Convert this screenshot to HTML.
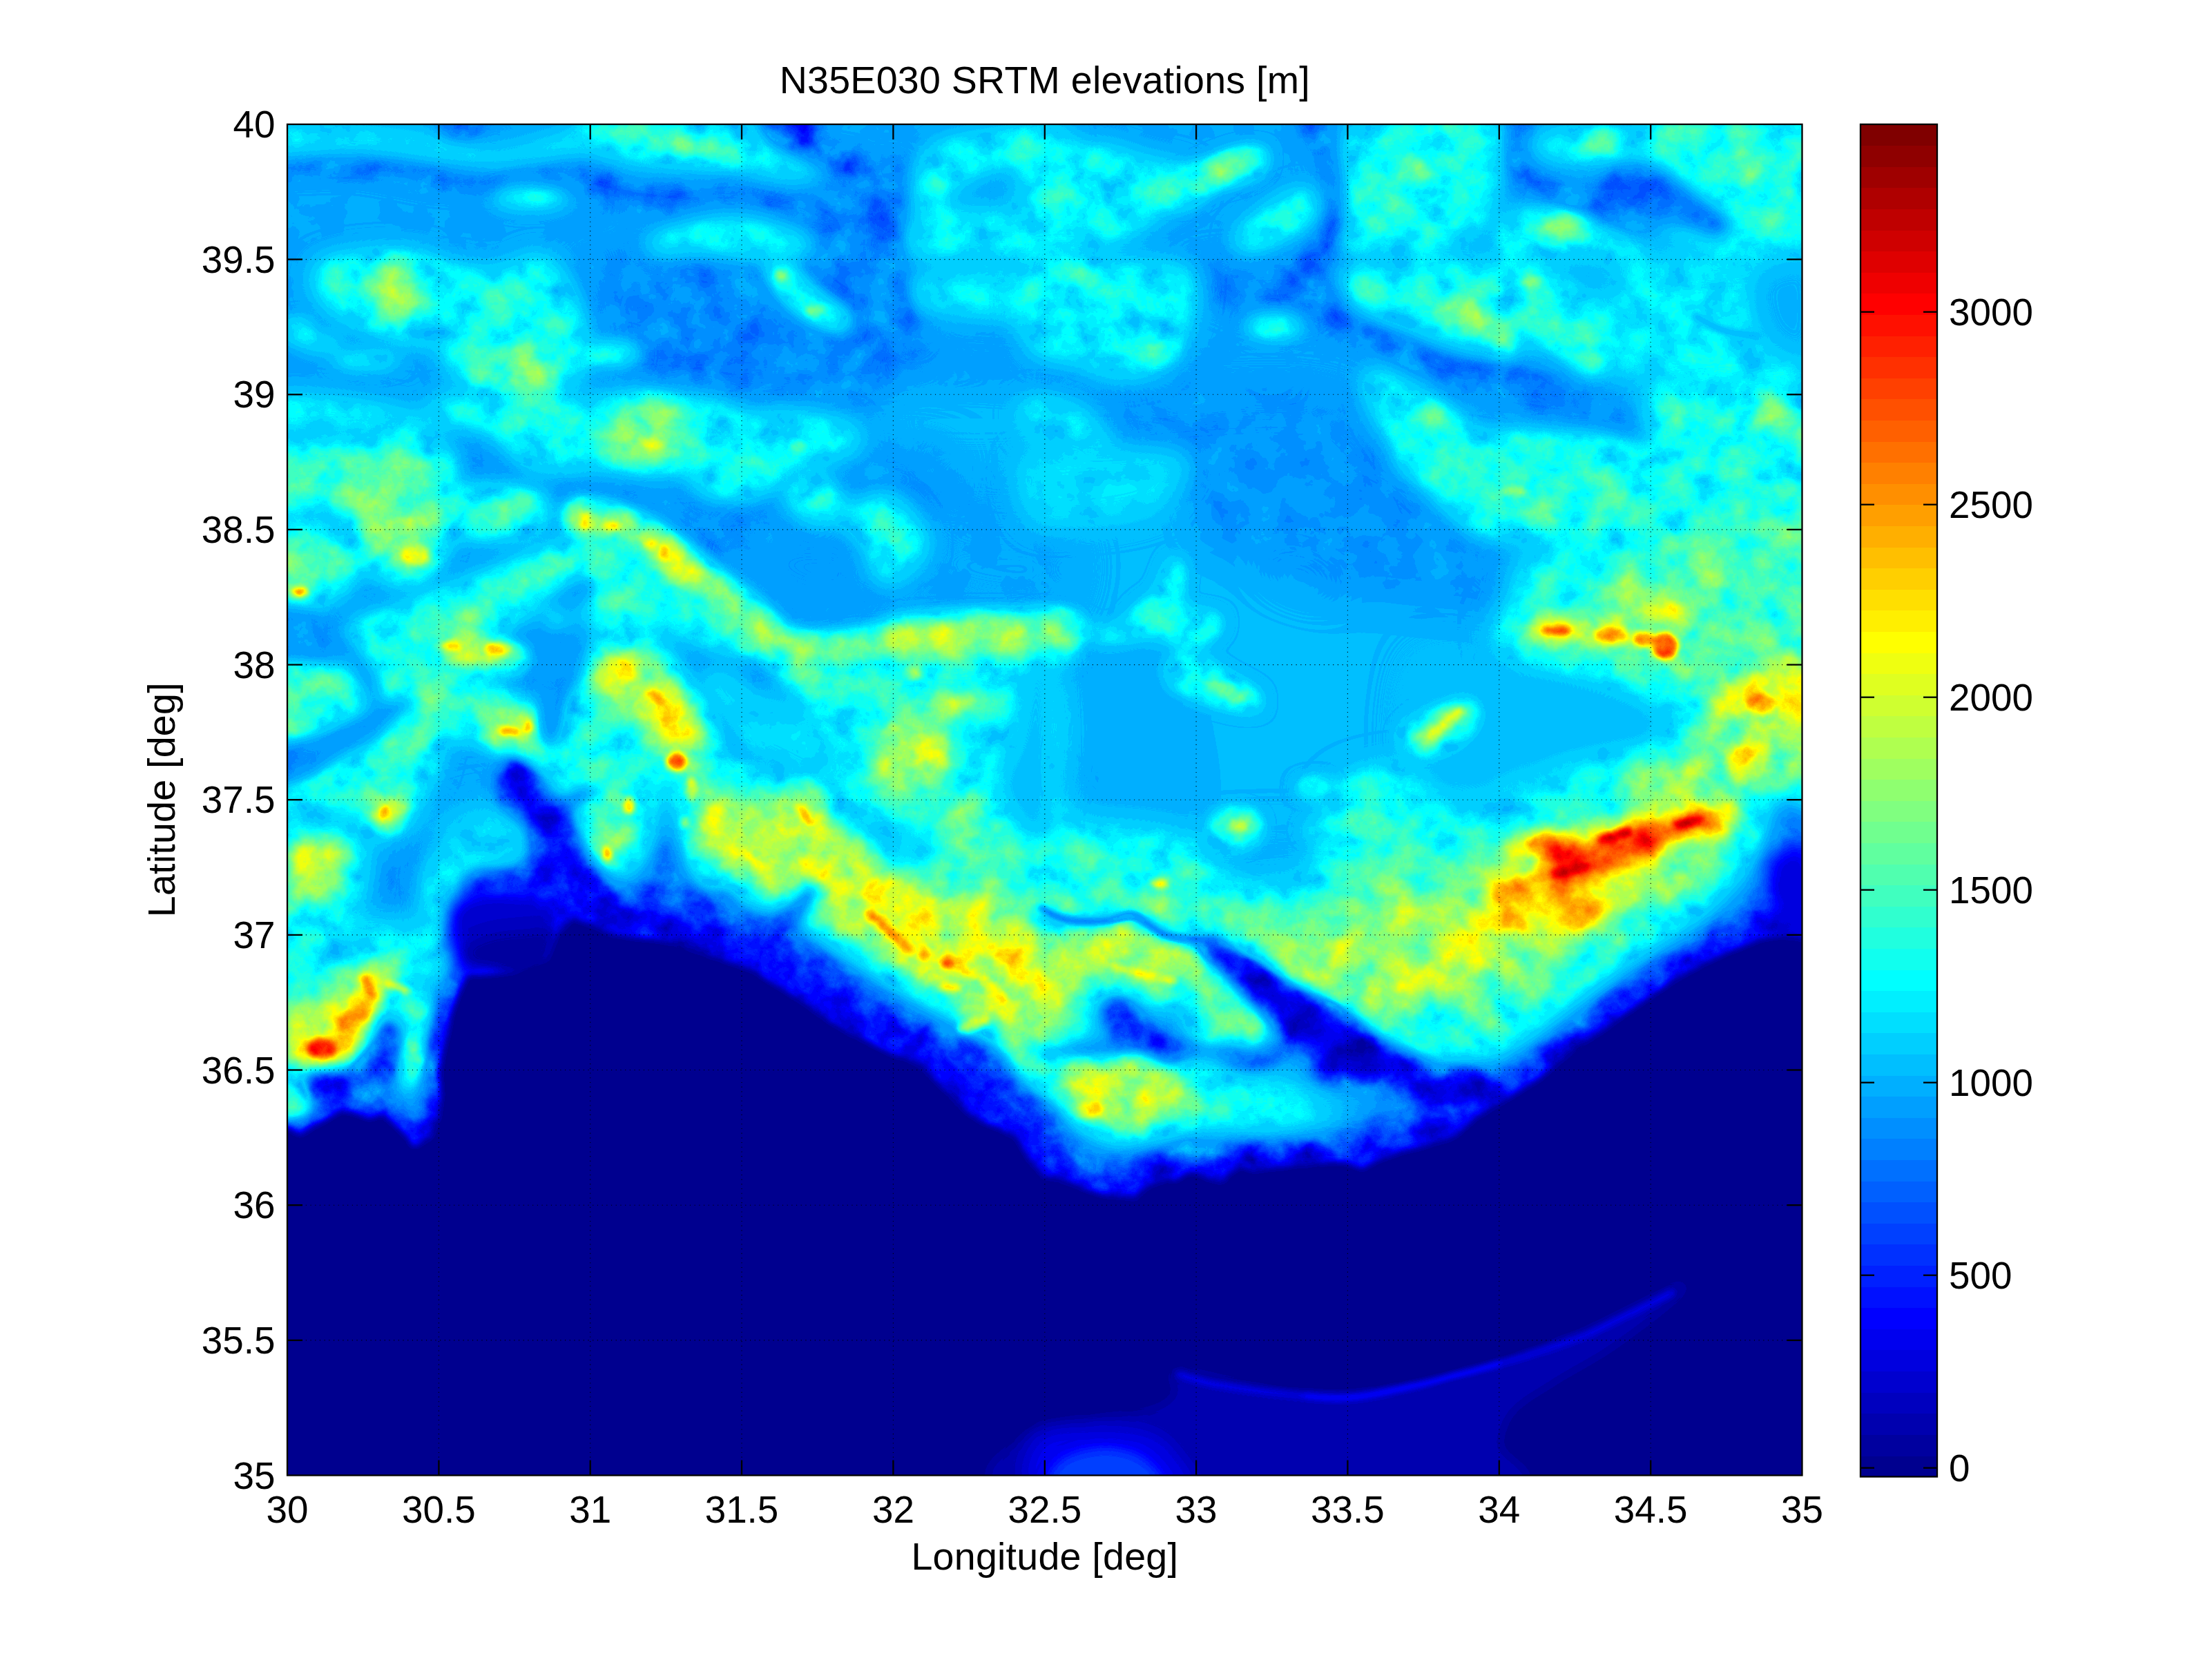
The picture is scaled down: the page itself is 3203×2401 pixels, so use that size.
<!DOCTYPE html>
<html><head><meta charset="utf-8"><title>N35E030 SRTM elevations</title>
<style>html,body{margin:0;padding:0;background:#fff}svg{display:block}text{font-family:"Liberation Sans",sans-serif;fill:#000}</style></head><body>
<svg width="3203" height="2401" viewBox="0 0 3203 2401">
<defs>
<clipPath id="ax"><rect x="416.0" y="180.0" width="2193.5" height="1956.5"/></clipPath>
<filter id="jet" filterUnits="userSpaceOnUse" x="406.0" y="170.0" width="2213.5" height="1976.5" color-interpolation-filters="sRGB">
<feComponentTransfer><feFuncR type="discrete" tableValues="0 0 0 0 0 0 0 0 0 0 0 0 0 0 0 0 0 0 0 0 0 0 0 0 0.0625 0.125 0.1875 0.25 0.3125 0.375 0.4375 0.5 0.5625 0.625 0.6875 0.75 0.8125 0.875 0.9375 1 1 1 1 1 1 1 1 1 1 1 1 1 1 1 1 1 0.9375 0.875 0.8125 0.75 0.6875 0.625 0.5625 0.5"/><feFuncG type="discrete" tableValues="0 0 0 0 0 0 0 0 0.0625 0.125 0.1875 0.25 0.3125 0.375 0.4375 0.5 0.5625 0.625 0.6875 0.75 0.8125 0.875 0.9375 1 1 1 1 1 1 1 1 1 1 1 1 1 1 1 1 1 0.9375 0.875 0.8125 0.75 0.6875 0.625 0.5625 0.5 0.4375 0.375 0.3125 0.25 0.1875 0.125 0.0625 0 0 0 0 0 0 0 0 0"/><feFuncB type="discrete" tableValues="0.5625 0.625 0.6875 0.75 0.8125 0.875 0.9375 1 1 1 1 1 1 1 1 1 1 1 1 1 1 1 1 1 0.9375 0.875 0.8125 0.75 0.6875 0.625 0.5625 0.5 0.4375 0.375 0.3125 0.25 0.1875 0.125 0.0625 0 0 0 0 0 0 0 0 0 0 0 0 0 0 0 0 0 0 0 0 0 0 0 0 0"/></feComponentTransfer>
</filter>
<filter id="noise" filterUnits="userSpaceOnUse" x="406.0" y="170.0" width="2213.5" height="1976.5" color-interpolation-filters="sRGB">
<feTurbulence type="fractalNoise" baseFrequency="0.02" numOctaves="5" seed="7" result="n"/>
<feColorMatrix in="n" type="matrix" values="1 0 0 0 0 1 0 0 0 0 1 0 0 0 0 0 0 0 0 1" result="ng"/>
<feComponentTransfer in="SourceGraphic" result="amp"><feFuncR type="table" tableValues="0.000 0.000 0.014 0.044 0.073 0.102 0.127 0.152 0.178 0.203 0.228 0.253 0.279 0.280 0.280 0.280 0.280 0.280 0.280 0.280 0.280 0.266 0.231 0.196 0.161 0.126 0.084 0.025 0.000 0.000 0.000 0.000 0.045 0.098 0.140 0.175 0.211 0.225 0.232 0.239 0.246 0.253 0.260 0.267 0.274 0.280 0.286 0.293 0.299 0.305 0.312 0.318 0.324 0.331 0.337 0.343 0.350 0.356 0.359 0.357 0.354 0.352 0.350 0.347 0.345 0.343 0.340 0.338 0.336 0.333 0.331 0.329 0.326 0.324 0.322 0.320 0.319 0.318 0.317 0.317 0.316 0.315 0.314 0.313 0.313 0.312 0.311 0.310 0.309 0.309 0.308 0.307 0.306 0.305 0.305 0.304 0.303 0.302 0.302 0.301 0.300"/><feFuncG type="table" tableValues="0.000 0.000 0.014 0.044 0.073 0.102 0.127 0.152 0.178 0.203 0.228 0.253 0.279 0.280 0.280 0.280 0.280 0.280 0.280 0.280 0.280 0.266 0.231 0.196 0.161 0.126 0.084 0.025 0.000 0.000 0.000 0.000 0.045 0.098 0.140 0.175 0.211 0.225 0.232 0.239 0.246 0.253 0.260 0.267 0.274 0.280 0.286 0.293 0.299 0.305 0.312 0.318 0.324 0.331 0.337 0.343 0.350 0.356 0.359 0.357 0.354 0.352 0.350 0.347 0.345 0.343 0.340 0.338 0.336 0.333 0.331 0.329 0.326 0.324 0.322 0.320 0.319 0.318 0.317 0.317 0.316 0.315 0.314 0.313 0.313 0.312 0.311 0.310 0.309 0.309 0.308 0.307 0.306 0.305 0.305 0.304 0.303 0.302 0.302 0.301 0.300"/><feFuncB type="table" tableValues="0.000 0.000 0.014 0.044 0.073 0.102 0.127 0.152 0.178 0.203 0.228 0.253 0.279 0.280 0.280 0.280 0.280 0.280 0.280 0.280 0.280 0.266 0.231 0.196 0.161 0.126 0.084 0.025 0.000 0.000 0.000 0.000 0.045 0.098 0.140 0.175 0.211 0.225 0.232 0.239 0.246 0.253 0.260 0.267 0.274 0.280 0.286 0.293 0.299 0.305 0.312 0.318 0.324 0.331 0.337 0.343 0.350 0.356 0.359 0.357 0.354 0.352 0.350 0.347 0.345 0.343 0.340 0.338 0.336 0.333 0.331 0.329 0.326 0.324 0.322 0.320 0.319 0.318 0.317 0.317 0.316 0.315 0.314 0.313 0.313 0.312 0.311 0.310 0.309 0.309 0.308 0.307 0.306 0.305 0.305 0.304 0.303 0.302 0.302 0.301 0.300"/></feComponentTransfer>
<feComposite in="amp" in2="ng" operator="arithmetic" k1="1" k2="-0.5" k3="0" k4="0.5" result="T"/>
<feComposite in="SourceGraphic" in2="T" operator="arithmetic" k1="0" k2="1" k3="1" k4="-0.5"/>
</filter>
<filter id="b0" filterUnits="userSpaceOnUse" x="206.0" y="-30.0" width="2613.5" height="2376.5" color-interpolation-filters="sRGB"><feGaussianBlur stdDeviation="0"/></filter>
<filter id="b4" filterUnits="userSpaceOnUse" x="206.0" y="-30.0" width="2613.5" height="2376.5" color-interpolation-filters="sRGB"><feGaussianBlur stdDeviation="4"/></filter>
<filter id="b8" filterUnits="userSpaceOnUse" x="206.0" y="-30.0" width="2613.5" height="2376.5" color-interpolation-filters="sRGB"><feGaussianBlur stdDeviation="8"/></filter>
<filter id="b12" filterUnits="userSpaceOnUse" x="206.0" y="-30.0" width="2613.5" height="2376.5" color-interpolation-filters="sRGB"><feGaussianBlur stdDeviation="12"/></filter>
<filter id="b14" filterUnits="userSpaceOnUse" x="206.0" y="-30.0" width="2613.5" height="2376.5" color-interpolation-filters="sRGB"><feGaussianBlur stdDeviation="14"/></filter>
<filter id="b18" filterUnits="userSpaceOnUse" x="206.0" y="-30.0" width="2613.5" height="2376.5" color-interpolation-filters="sRGB"><feGaussianBlur stdDeviation="18"/></filter>
<filter id="b28" filterUnits="userSpaceOnUse" x="206.0" y="-30.0" width="2613.5" height="2376.5" color-interpolation-filters="sRGB"><feGaussianBlur stdDeviation="28"/></filter>
<filter id="b30" filterUnits="userSpaceOnUse" x="206.0" y="-30.0" width="2613.5" height="2376.5" color-interpolation-filters="sRGB"><feGaussianBlur stdDeviation="30"/></filter>
</defs>
<rect width="100%" height="100%" fill="#fff"/>
<g clip-path="url(#ax)"><g filter="url(#jet)">
<g filter="url(#noise)">
<rect x="116.0" y="-120.0" width="2793.5" height="2556.5" fill="rgb(71,71,71)"/>
<g filter="url(#b28)">
<path d="M1483 659C1524 567 1690 641 1731 659C1772 677 1718 742 1731 768C1744 795 1774 801 1810 818C1847 834 1885 855 1949 868C2014 880 2150 884 2197 892C2244 901 2230 905 2232 917C2233 930 2217 950 2207 967C2197 983 2178 975 2172 1016C2166 1058 2287 1182 2172 1215C2057 1248 1598 1307 1483 1215C1368 1122 1442 752 1483 659Z" fill="rgb(75,75,75)"/>
<path d="M1483 917C1463 881 1394 930 1364 947C1334 963 1313 988 1305 1016C1296 1044 1305 1091 1314 1116C1324 1140 1347 1147 1364 1165C1381 1183 1381 1216 1414 1225C1447 1234 1513 1216 1562 1220C1612 1223 1661 1245 1711 1245C1761 1245 1835 1233 1860 1220C1885 1207 1923 1174 1860 1165C1797 1156 1546 1207 1483 1165C1420 1124 1503 954 1483 917Z" fill="rgb(76,76,76)"/>
<path d="M1483 967C1519 925 1660 958 1701 967C1742 975 1726 975 1731 1016C1736 1058 1772 1182 1731 1215C1690 1248 1524 1256 1483 1215C1442 1173 1447 1008 1483 967Z" fill="rgb(73,73,73)"/>
<path d="M1731 649C1780 634 1970 638 2028 649C2087 661 2066 699 2083 719C2100 739 2118 753 2133 768C2147 783 2160 796 2172 808C2185 820 2197 831 2207 843C2217 854 2233 869 2232 877C2230 886 2218 891 2197 892C2176 894 2139 890 2108 887C2076 885 2035 881 2009 877C1982 874 1971 875 1949 868C1928 860 1903 841 1880 833C1857 825 1832 825 1810 818C1789 811 1764 806 1751 793C1738 781 1734 768 1731 744C1728 720 1681 665 1731 649Z" fill="rgb(67,67,67)"/>
<path d="M1612 587C1640 578 1690 575 1731 572C1772 569 1825 566 1860 567C1895 568 1921 570 1939 577C1957 583 1957 588 1969 607C1980 626 2085 677 2009 691C1933 705 1587 702 1513 691C1438 680 1546 644 1562 626C1579 609 1584 596 1612 587Z" fill="rgb(67,67,67)"/>
</g>
<g filter="url(#b12)">
<path d="M391 230C412 225 475 224 515 225C556 225 601 231 634 235C667 238 692 244 713 244C735 244 740 236 763 235C786 233 828 230 852 235C877 240 890 255 912 264C934 273 959 284 986 289C1013 294 1042 295 1075 294C1108 293 1154 289 1185 284C1215 279 1242 272 1259 264C1276 257 1282 232 1289 240C1295 247 1304 297 1299 309C1294 321 1282 310 1259 309C1236 308 1190 303 1160 304C1129 305 1104 312 1075 314C1047 316 1013 316 986 314C959 312 934 310 912 304C890 298 877 286 852 279C828 273 786 265 763 264C740 264 735 273 713 274C692 276 667 278 634 274C601 271 556 258 515 254C475 251 412 259 391 254C371 250 371 235 391 230Z" fill="rgb(60,60,60)"/>
</g>
<g filter="url(#b28)">
<path d="M857 378C894 362 1033 372 1075 378C1118 385 1106 405 1110 418C1114 431 1092 445 1100 458C1108 471 1133 491 1160 497C1186 504 1236 493 1259 497C1282 502 1252 519 1299 527C1345 536 1497 539 1537 547C1576 555 1613 572 1537 577C1460 582 1171 579 1075 577C980 575 997 570 961 567C926 564 880 572 862 557C844 542 853 507 852 478C851 448 820 395 857 378Z" fill="rgb(66,66,66)"/>
<path d="M1294 572C1334 555 1496 555 1537 572C1577 589 1577 659 1537 676C1496 693 1334 693 1294 676C1253 659 1253 589 1294 572Z" fill="rgb(76,76,76)"/>
<path d="M950 257C970 237 1037 265 1074 269C1111 272 1134 282 1171 280C1207 278 1269 254 1293 257C1318 260 1316 278 1318 298C1320 318 1307 350 1303 375C1299 399 1288 429 1293 446C1298 462 1333 463 1333 475C1333 487 1310 503 1293 519C1276 535 1266 564 1230 572C1193 581 1118 576 1074 572C1030 568 985 580 964 549C944 518 952 435 950 387C947 338 929 276 950 257Z" fill="rgb(63,63,63)"/>
</g>
<g filter="url(#b18)">
<path d="M654 654C690 648 806 654 862 654C918 654 968 647 991 654C1014 662 1006 687 1001 699C996 710 976 718 961 724C947 729 930 732 912 734C894 735 871 731 852 734C834 736 818 751 803 748C788 746 781 725 763 719C745 712 713 714 694 709C675 704 656 698 649 689C642 680 618 660 654 654Z" fill="rgb(67,67,67)"/>
<path d="M976 734C992 726 1051 719 1075 719C1100 719 1118 725 1125 734C1132 742 1128 758 1120 768C1112 779 1089 791 1075 798C1061 806 1048 814 1036 813C1023 812 1010 801 1001 793C992 785 985 773 981 763C977 753 961 741 976 734Z" fill="rgb(66,66,66)"/>
</g>
<g filter="url(#b28)">
<path d="M1075 798C1084 787 1103 773 1125 768C1147 763 1187 763 1209 768C1232 773 1251 782 1259 798C1267 815 1267 853 1259 868C1251 882 1230 887 1209 887C1189 887 1157 877 1135 868C1113 858 1085 844 1075 833C1066 821 1067 809 1075 798Z" fill="rgb(69,69,69)"/>
<path d="M1209 654C1238 647 1348 643 1373 654C1398 665 1369 703 1358 719C1347 734 1330 745 1308 748C1287 752 1247 747 1229 739C1211 730 1203 713 1199 699C1196 685 1180 662 1209 654Z" fill="rgb(67,67,67)"/>
<path d="M1348 768C1383 760 1505 749 1537 768C1568 787 1558 863 1537 882C1515 901 1439 887 1408 882C1376 878 1361 868 1348 858C1335 847 1328 833 1328 818C1328 803 1313 777 1348 768Z" fill="rgb(71,71,71)"/>
</g>
<g filter="url(#b18)">
<path d="M1736 378C1757 372 1831 373 1860 373C1889 373 1899 371 1909 378C1919 386 1923 405 1919 418C1916 431 1904 451 1890 458C1875 464 1850 461 1830 458C1810 454 1786 445 1771 438C1755 431 1742 423 1736 413C1730 403 1715 385 1736 378Z" fill="rgb(65,65,65)"/>
</g>
<g filter="url(#b12)">
<ellipse cx="1679" cy="443" rx="17" ry="27" fill="rgb(67,67,67)" transform="rotate(0 1679 443)"/>
</g>
<g filter="url(#b18)">
<path d="M391 190C412 184 475 183 515 185C556 187 601 194 634 200C667 206 692 218 713 220C735 221 741 215 763 210C785 205 832 189 847 190C862 191 866 207 852 215C838 222 786 230 763 235C740 239 735 243 713 242C692 241 667 234 634 230C601 225 556 216 515 215C475 213 412 224 391 220C371 216 371 196 391 190Z" fill="rgb(92,92,92)"/>
<path d="M857 165C894 157 1033 158 1075 165C1118 173 1094 199 1110 210C1127 221 1163 221 1175 230C1186 238 1190 255 1180 259C1169 264 1127 257 1110 254C1093 252 1096 246 1075 244C1055 243 1013 246 986 244C959 243 933 240 912 235C890 230 866 226 857 215C848 203 821 173 857 165Z" fill="rgb(92,92,92)"/>
</g>
<g filter="url(#b12)">
<path d="M872 187C882 186 913 188 937 190C960 192 989 195 1011 200C1033 205 1060 215 1070 220C1081 225 1085 229 1075 230C1066 230 1034 228 1011 225C988 221 959 214 937 210C914 206 888 204 877 200C866 196 862 189 872 187Z" fill="rgb(118,118,118)"/>
<ellipse cx="768" cy="287" rx="55" ry="15" fill="rgb(92,92,92)" transform="rotate(0 768 287)"/>
</g>
<g filter="url(#b18)">
<path d="M937 344C947 335 988 324 1011 319C1034 314 1055 312 1075 314C1096 316 1118 323 1135 329C1152 335 1175 341 1180 349C1184 356 1177 369 1160 373C1142 378 1100 375 1075 373C1051 372 1032 364 1011 364C990 363 964 372 951 369C939 365 927 352 937 344Z" fill="rgb(96,96,96)"/>
<path d="M1358 210C1379 201 1427 194 1457 190C1487 186 1523 178 1537 185C1550 192 1554 220 1537 230C1519 240 1458 238 1432 244C1407 251 1398 259 1383 269C1368 280 1353 305 1343 309C1333 313 1325 305 1323 294C1322 283 1327 259 1333 244C1339 230 1337 219 1358 210Z" fill="rgb(96,96,96)"/>
<path d="M1308 334C1317 324 1333 314 1358 309C1383 304 1427 302 1457 304C1487 306 1523 308 1537 319C1550 330 1558 360 1537 369C1515 377 1446 369 1408 369C1370 369 1325 374 1308 369C1292 363 1300 344 1308 334Z" fill="rgb(92,92,92)"/>
<path d="M1308 413C1321 406 1345 396 1383 393C1421 391 1511 388 1537 398C1562 409 1558 448 1537 458C1515 468 1446 461 1408 458C1370 454 1325 445 1308 438C1292 431 1296 421 1308 413Z" fill="rgb(89,89,89)"/>
<path d="M466 378C484 369 537 364 565 364C593 364 622 363 634 378C647 394 642 438 639 458C636 478 627 493 614 497C602 502 585 494 565 488C544 481 509 469 490 458C472 446 460 431 456 418C452 405 447 388 466 378Z" fill="rgb(96,96,96)"/>
</g>
<g filter="url(#b12)">
<path d="M515 393C523 385 550 377 565 378C580 380 596 393 604 403C613 413 618 427 614 438C611 449 596 464 585 468C573 471 556 464 545 458C533 451 520 439 515 428C510 417 507 402 515 393Z" fill="rgb(118,118,118)"/>
</g>
<g filter="url(#b18)">
<path d="M634 388C647 374 689 397 713 393C738 390 766 368 783 369C799 369 803 383 813 398C823 413 836 436 842 458C849 479 857 509 852 527C847 545 836 559 813 567C790 574 740 577 713 572C687 567 667 553 654 537C641 521 637 502 634 478C631 453 621 402 634 388Z" fill="rgb(96,96,96)"/>
</g>
<g filter="url(#b12)">
<path d="M713 507C727 499 747 494 763 497C780 501 808 517 813 527C818 538 806 555 793 562C780 569 752 569 733 567C715 564 687 557 684 547C680 537 700 516 713 507Z" fill="rgb(122,122,122)"/>
<path d="M1110 388C1112 381 1127 377 1140 383C1153 390 1175 416 1189 428C1204 440 1224 450 1229 458C1234 466 1229 477 1219 478C1209 478 1185 471 1170 463C1155 454 1140 440 1130 428C1120 416 1108 396 1110 388Z" fill="rgb(103,103,103)"/>
</g>
<g filter="url(#b4)">
<ellipse cx="1130" cy="398" rx="10" ry="7" fill="rgb(125,125,125)" transform="rotate(0 1130 398)"/>
<ellipse cx="1180" cy="450" rx="12" ry="7" fill="rgb(125,125,125)" transform="rotate(0 1180 450)"/>
</g>
<g filter="url(#b12)">
<ellipse cx="530" cy="522" rx="50" ry="12" fill="rgb(92,92,92)" transform="rotate(0 530 522)"/>
<ellipse cx="431" cy="478" rx="20" ry="15" fill="rgb(100,100,100)" transform="rotate(0 431 478)"/>
<ellipse cx="466" cy="497" rx="30" ry="10" fill="rgb(92,92,92)" transform="rotate(0 466 497)"/>
<ellipse cx="887" cy="512" rx="40" ry="20" fill="rgb(92,92,92)" transform="rotate(0 887 512)"/>
</g>
<g filter="url(#b18)">
<path d="M391 577C412 569 478 577 515 582C552 587 594 597 614 607C634 617 642 636 634 641C626 646 593 641 565 636C537 632 495 618 466 617C437 615 404 633 391 626C379 620 371 584 391 577Z" fill="rgb(92,92,92)"/>
<path d="M634 577C656 572 727 574 763 577C799 579 837 575 852 592C867 608 867 662 852 676C837 690 786 684 763 676C740 668 735 638 713 626C692 615 647 615 634 607C621 598 613 582 634 577Z" fill="rgb(96,96,96)"/>
</g>
<g filter="url(#b12)">
<ellipse cx="773" cy="597" rx="30" ry="15" fill="rgb(118,118,118)" transform="rotate(0 773 597)"/>
</g>
<g filter="url(#b18)">
<path d="M862 577C887 560 975 573 1011 577C1047 581 1065 585 1075 602C1086 618 1111 664 1075 676C1040 688 898 693 862 676C827 660 837 593 862 577Z" fill="rgb(96,96,96)"/>
</g>
<g filter="url(#b12)">
<ellipse cx="942" cy="626" rx="59" ry="45" fill="rgb(132,132,132)" transform="rotate(0 942 626)"/>
</g>
<g filter="url(#b4)">
<ellipse cx="944" cy="641" rx="20" ry="9" fill="rgb(162,162,162)" transform="rotate(0 944 641)"/>
</g>
<g filter="url(#b18)">
<path d="M1075 607C1089 593 1132 595 1160 597C1187 598 1226 607 1239 617C1252 626 1252 646 1239 656C1226 666 1187 673 1160 676C1132 679 1089 688 1075 676C1061 664 1061 620 1075 607Z" fill="rgb(92,92,92)"/>
</g>
<g filter="url(#b4)">
<ellipse cx="1155" cy="646" rx="12" ry="7" fill="rgb(118,118,118)" transform="rotate(0 1155 646)"/>
</g>
<g filter="url(#b12)">
<path d="M1100 170C1107 163 1160 163 1175 170C1189 177 1177 201 1189 210C1202 219 1236 218 1249 225C1262 231 1272 245 1269 249C1266 254 1244 253 1229 249C1214 246 1195 236 1180 230C1164 223 1148 220 1135 210C1122 200 1094 177 1100 170Z" fill="rgb(49,49,49)"/>
<ellipse cx="669" cy="182" rx="30" ry="12" fill="rgb(42,42,42)" transform="rotate(0 669 182)"/>
<path d="M1289 240C1289 263 1290 342 1294 378C1297 415 1304 440 1308 458C1313 476 1321 483 1323 488" fill="none" stroke="rgb(60,60,60)" stroke-width="26" stroke-linecap="round" stroke-linejoin="round"/>
</g>
<g filter="url(#b18)">
<path d="M391 654C432 641 591 647 634 654C677 662 652 686 649 699C646 712 628 722 614 734C600 745 581 766 565 768C548 771 532 755 515 748C499 742 486 731 466 729C445 726 404 746 391 734C379 721 351 667 391 654Z" fill="rgb(114,114,114)"/>
<path d="M530 734C541 724 562 720 580 719C597 718 623 720 634 729C645 737 646 753 644 768C642 783 634 806 624 818C614 830 599 838 585 838C571 838 552 828 540 818C528 808 517 792 515 778C514 764 519 744 530 734Z" fill="rgb(125,125,125)"/>
</g>
<g filter="url(#b4)">
<ellipse cx="580" cy="758" rx="20" ry="12" fill="rgb(147,147,147)" transform="rotate(0 580 758)"/>
<ellipse cx="602" cy="803" rx="20" ry="15" fill="rgb(151,151,151)" transform="rotate(0 602 803)"/>
</g>
<g filter="url(#b18)">
<path d="M649 719C660 710 691 709 713 709C736 709 770 713 783 719C796 725 796 735 793 744C790 752 780 763 763 768C747 773 713 775 694 773C675 772 656 768 649 758C642 749 638 727 649 719Z" fill="rgb(111,111,111)"/>
<path d="M391 778C404 762 445 765 466 768C486 772 509 787 515 798C522 810 514 826 505 838C497 849 485 863 466 868C447 873 404 882 391 868C379 853 379 795 391 778Z" fill="rgb(111,111,111)"/>
</g>
<g filter="url(#b4)">
<ellipse cx="436" cy="857" rx="12" ry="6" fill="rgb(176,176,176)" transform="rotate(0 436 857)"/>
</g>
<g filter="url(#b18)">
<path d="M535 907C555 892 601 881 634 868C667 854 707 839 733 828C760 817 773 811 793 803C813 796 841 781 852 783C864 786 872 807 862 818C852 829 814 839 793 848C771 856 760 858 733 868C707 877 662 894 634 907C606 920 585 939 565 947C545 955 520 963 515 957C510 950 515 922 535 907Z" fill="rgb(122,122,122)"/>
<path d="M535 897C578 887 750 879 793 887C836 896 819 934 793 947C766 960 677 967 634 967C591 967 552 958 535 947C518 935 492 907 535 897Z" fill="rgb(107,107,107)"/>
<path d="M852 783C861 777 890 788 912 798C934 808 961 827 986 843C1011 858 1040 878 1061 892C1081 906 1108 918 1110 927C1113 936 1096 949 1075 947C1055 945 1013 924 986 917C959 911 932 907 912 907C891 907 873 922 862 917C851 912 847 892 847 877C847 863 861 849 862 833C863 817 844 789 852 783Z" fill="rgb(100,100,100)"/>
</g>
<g filter="url(#b12)">
<path d="M842 748C851 751 872 753 892 761C912 769 942 785 961 798C981 811 992 823 1011 838C1030 853 1055 871 1075 887C1096 904 1113 927 1135 937C1157 947 1183 948 1209 947C1236 946 1261 937 1294 932C1327 927 1367 920 1408 917C1448 915 1515 917 1537 917" fill="none" stroke="rgb(140,140,140)" stroke-width="44" stroke-linecap="round" stroke-linejoin="round"/>
</g>
<g filter="url(#b4)">
<ellipse cx="887" cy="761" rx="12" ry="6" fill="rgb(183,183,183)" transform="rotate(0 887 761)"/>
<ellipse cx="847" cy="753" rx="7" ry="12" fill="rgb(162,162,162)" transform="rotate(0 847 753)"/>
<ellipse cx="942" cy="788" rx="10" ry="6" fill="rgb(169,169,169)" transform="rotate(0 942 788)"/>
<ellipse cx="961" cy="801" rx="7" ry="10" fill="rgb(176,176,176)" transform="rotate(0 961 801)"/>
</g>
<g filter="url(#b12)">
<path d="M629 937C636 933 656 929 674 927C691 925 715 928 733 927C752 926 776 918 783 922C790 926 781 944 773 952C765 959 750 965 733 967C717 968 690 964 674 962C657 959 642 956 634 952C627 948 623 941 629 937Z" fill="rgb(140,140,140)"/>
</g>
<g filter="url(#b4)">
<ellipse cx="723" cy="939" rx="20" ry="10" fill="rgb(191,191,191)" transform="rotate(0 723 939)"/>
<ellipse cx="652" cy="937" rx="15" ry="6" fill="rgb(169,169,169)" transform="rotate(0 652 937)"/>
</g>
<g filter="url(#b18)">
<path d="M545 947C558 942 609 960 634 967C659 973 677 978 694 987C710 995 733 1005 733 1016C733 1028 710 1051 694 1056C677 1061 652 1044 634 1046C616 1048 599 1066 585 1066C570 1066 550 1058 545 1046C540 1035 555 1013 555 997C555 980 532 952 545 947Z" fill="rgb(107,107,107)"/>
<path d="M391 967C404 948 445 958 466 962C486 965 504 976 515 987C527 997 540 1016 535 1026C530 1036 500 1040 485 1046C471 1053 461 1061 446 1066C430 1071 400 1092 391 1076C382 1059 379 986 391 967Z" fill="rgb(114,114,114)"/>
<path d="M391 1145C404 1137 441 1126 466 1116C490 1105 515 1090 540 1081C565 1072 599 1059 614 1061C630 1063 634 1078 634 1091C634 1103 626 1123 614 1135C603 1148 602 1160 565 1165C528 1170 420 1169 391 1165C362 1162 379 1154 391 1145Z" fill="rgb(107,107,107)"/>
</g>
<g filter="url(#b12)">
<ellipse cx="555" cy="1121" rx="20" ry="15" fill="rgb(118,118,118)" transform="rotate(0 555 1121)"/>
</g>
<g filter="url(#b18)">
<path d="M634 1016C647 1009 687 1015 713 1016C740 1018 778 1011 793 1026C808 1041 808 1091 803 1106C798 1121 781 1122 763 1116C745 1109 715 1075 694 1066C672 1057 644 1069 634 1061C624 1053 621 1024 634 1016Z" fill="rgb(107,107,107)"/>
</g>
<g filter="url(#b12)">
<path d="M704 1056C708 1051 722 1044 733 1041C745 1038 766 1033 773 1036C780 1040 783 1054 778 1061C773 1068 755 1074 743 1076C732 1078 715 1074 709 1071C702 1068 699 1061 704 1056Z" fill="rgb(140,140,140)"/>
</g>
<g filter="url(#b4)">
<ellipse cx="738" cy="1059" rx="17" ry="5" fill="rgb(191,191,191)" transform="rotate(0 738 1059)"/>
<ellipse cx="766" cy="1051" rx="5" ry="10" fill="rgb(176,176,176)" transform="rotate(0 766 1051)"/>
</g>
<g filter="url(#b18)">
<path d="M852 1106C890 1096 1038 1096 1075 1106C1113 1116 1113 1155 1075 1165C1038 1175 890 1175 852 1165C815 1155 815 1116 852 1106Z" fill="rgb(89,89,89)"/>
<path d="M857 987C864 962 880 1005 892 1016C904 1028 918 1043 932 1056C945 1069 958 1084 971 1096C985 1107 1004 1114 1011 1126C1018 1137 1037 1159 1011 1165C985 1172 878 1195 852 1165C827 1135 851 1011 857 987Z" fill="rgb(96,96,96)"/>
<path d="M813 967C823 950 854 934 862 967C871 1000 871 1132 862 1165C854 1198 823 1182 813 1165C803 1149 803 1099 803 1066C803 1033 803 983 813 967Z" fill="rgb(103,103,103)"/>
<path d="M857 947C866 939 896 927 912 927C928 927 938 935 951 947C965 958 980 980 991 997C1003 1013 1014 1030 1021 1046C1028 1063 1034 1084 1031 1096C1028 1107 1013 1117 1001 1116C989 1114 975 1097 961 1086C948 1074 935 1059 922 1046C909 1033 893 1018 882 1006C871 995 861 987 857 977C853 967 848 955 857 947Z" fill="rgb(143,143,143)"/>
</g>
<g filter="url(#b12)">
<path d="M892 967C894 958 918 960 932 967C945 973 960 993 971 1006C983 1020 996 1035 1001 1046C1006 1058 1008 1074 1001 1076C994 1078 975 1066 961 1056C948 1046 933 1031 922 1016C910 1001 890 975 892 967Z" fill="rgb(154,154,154)"/>
</g>
<g filter="url(#b4)">
<ellipse cx="951" cy="1011" rx="17" ry="7" fill="rgb(176,176,176)" transform="rotate(40 951 1011)"/>
<ellipse cx="979" cy="1103" rx="14" ry="13" fill="rgb(212,212,212)" transform="rotate(0 979 1103)"/>
<ellipse cx="1001" cy="1145" rx="7" ry="20" fill="rgb(162,162,162)" transform="rotate(0 1001 1145)"/>
</g>
<g filter="url(#b28)">
<path d="M1170 957C1220 937 1438 912 1492 947C1546 982 1546 1129 1492 1165C1438 1202 1220 1182 1170 1165C1119 1149 1189 1101 1189 1066C1189 1031 1119 977 1170 957Z" fill="rgb(100,100,100)"/>
</g>
<g filter="url(#b18)">
<path d="M1135 947C1161 940 1265 930 1294 937C1323 944 1314 973 1308 987C1303 1000 1279 1013 1259 1016C1239 1020 1209 1013 1189 1006C1170 1000 1149 987 1140 977C1131 967 1109 954 1135 947Z" fill="rgb(114,114,114)"/>
</g>
<g filter="url(#b4)">
<ellipse cx="1323" cy="974" rx="12" ry="10" fill="rgb(162,162,162)" transform="rotate(0 1323 974)"/>
</g>
<g filter="url(#b12)">
<ellipse cx="1393" cy="1024" rx="45" ry="10" fill="rgb(147,147,147)" transform="rotate(0 1393 1024)"/>
</g>
<g filter="url(#b18)">
<path d="M1279 1046C1292 1035 1323 1031 1338 1036C1354 1041 1370 1063 1373 1076C1376 1089 1364 1101 1358 1116C1352 1130 1351 1157 1338 1165C1325 1173 1292 1175 1279 1165C1266 1155 1259 1126 1259 1106C1259 1086 1266 1058 1279 1046Z" fill="rgb(136,136,136)"/>
</g>
<g filter="url(#b4)">
<ellipse cx="1289" cy="1056" rx="10" ry="7" fill="rgb(154,154,154)" transform="rotate(0 1289 1056)"/>
</g>
<g filter="url(#b12)">
<ellipse cx="1343" cy="1106" rx="25" ry="30" fill="rgb(154,154,154)" transform="rotate(0 1343 1106)"/>
</g>
<g filter="url(#b18)">
<path d="M1378 1036C1395 1024 1473 995 1492 1016C1511 1038 1511 1140 1492 1165C1473 1190 1395 1178 1378 1165C1361 1153 1388 1112 1388 1091C1388 1069 1361 1049 1378 1036Z" fill="rgb(92,92,92)"/>
<path d="M1294 907C1308 900 1356 903 1383 902C1410 901 1432 901 1457 902C1483 903 1523 900 1537 907C1550 915 1558 939 1537 947C1515 954 1448 952 1408 952C1367 952 1313 954 1294 947C1275 939 1279 915 1294 907Z" fill="rgb(129,129,129)"/>
<path d="M1180 1016C1196 1001 1266 1011 1279 1026C1292 1041 1259 1083 1259 1106C1259 1129 1295 1155 1279 1165C1262 1175 1176 1173 1160 1165C1143 1157 1176 1140 1180 1116C1183 1091 1163 1031 1180 1016Z" fill="rgb(92,92,92)"/>
<path d="M1011 674C1020 667 1056 668 1075 669C1094 670 1119 672 1125 679C1131 686 1118 702 1110 709C1102 715 1090 718 1075 719C1061 720 1032 721 1021 714C1010 706 1002 682 1011 674Z" fill="rgb(100,100,100)"/>
<path d="M1150 699C1157 693 1178 689 1189 694C1201 699 1216 719 1219 729C1223 739 1218 750 1209 753C1201 757 1180 753 1170 748C1159 744 1148 737 1145 729C1142 720 1142 705 1150 699Z" fill="rgb(103,103,103)"/>
<path d="M1239 734C1249 727 1273 713 1289 719C1304 725 1325 755 1333 768C1342 782 1344 787 1338 798C1332 810 1310 832 1299 838C1287 844 1275 841 1269 833C1262 825 1266 801 1259 788C1252 776 1232 768 1229 758C1226 749 1229 740 1239 734Z" fill="rgb(100,100,100)"/>
</g>
<g filter="url(#b12)">
<path d="M723 912C728 906 750 898 763 892C776 887 798 876 803 877C808 879 786 897 793 902C799 907 832 903 842 907C852 911 851 918 852 927C854 936 854 951 852 962C851 973 848 981 842 992C837 1002 823 1014 818 1026C812 1039 813 1057 808 1066C803 1075 793 1084 788 1081C783 1078 779 1058 778 1046C777 1035 785 1021 783 1011C780 1001 767 997 763 987C759 976 763 956 758 947C753 938 739 938 733 932C728 926 718 919 723 912Z" fill="rgb(69,69,69)"/>
<path d="M813 863C817 855 839 836 847 833C856 830 861 837 862 843C863 849 859 862 852 868C846 873 829 878 823 877C816 877 809 870 813 863Z" fill="rgb(69,69,69)"/>
<path d="M391 1081C404 1069 441 1075 466 1066C490 1057 520 1036 540 1026C560 1016 574 1008 585 1006C595 1005 608 1009 604 1016C601 1024 584 1039 565 1051C546 1064 510 1078 490 1091C471 1103 462 1118 446 1126C429 1133 400 1143 391 1135C382 1128 379 1092 391 1081Z" fill="rgb(66,66,66)"/>
<path d="M391 882C400 873 432 882 446 887C460 893 467 907 475 917C484 927 497 940 495 947C494 954 483 957 466 957C448 957 404 959 391 947C379 935 382 892 391 882Z" fill="rgb(66,66,66)"/>
<path d="M505 937C509 944 524 963 530 977C536 990 538 1010 540 1016" fill="none" stroke="rgb(67,67,67)" stroke-width="22" stroke-linecap="round" stroke-linejoin="round"/>
<path d="M1899 170C1904 180 1923 211 1929 230C1936 248 1940 260 1939 279C1938 298 1931 327 1924 344C1918 360 1905 367 1899 378C1894 390 1885 403 1890 413C1895 423 1919 429 1929 438C1939 447 1936 458 1949 468C1962 478 1986 488 2009 497C2031 507 2056 519 2083 527C2110 536 2143 540 2172 547C2201 554 2242 564 2256 567" fill="none" stroke="rgb(58,58,58)" stroke-width="35" stroke-linecap="round" stroke-linejoin="round"/>
<path d="M2172 170C2180 160 2211 162 2217 170C2223 178 2202 205 2207 220C2212 235 2227 248 2247 259C2266 271 2302 281 2326 289C2350 297 2380 302 2390 309C2401 316 2401 326 2390 329C2380 331 2350 329 2326 324C2302 319 2268 308 2247 299C2225 290 2209 281 2197 269C2185 258 2176 246 2172 230C2168 213 2165 180 2172 170Z" fill="rgb(58,58,58)"/>
<path d="M2108 552C2118 555 2147 563 2172 567C2197 571 2226 570 2256 577C2287 583 2339 602 2356 607" fill="none" stroke="rgb(63,63,63)" stroke-width="26" stroke-linecap="round" stroke-linejoin="round"/>
<path d="M2207 577C2220 575 2261 580 2286 587C2311 593 2339 607 2356 617C2372 626 2390 643 2385 646C2380 650 2347 642 2326 636C2304 631 2276 618 2256 612C2237 605 2215 602 2207 597C2199 591 2194 579 2207 577Z" fill="rgb(67,67,67)"/>
<path d="M2390 329C2401 331 2436 338 2455 344C2474 349 2496 360 2504 364" fill="none" stroke="rgb(67,67,67)" stroke-width="13" stroke-linecap="round" stroke-linejoin="round"/>
</g>
<g filter="url(#b18)">
<path d="M1488 230C1504 207 1558 210 1587 210C1616 210 1639 224 1661 230C1684 235 1709 236 1721 244C1733 253 1738 268 1731 279C1724 290 1697 298 1681 309C1666 320 1652 335 1637 344C1621 352 1612 359 1587 359C1562 359 1504 365 1488 344C1471 322 1471 252 1488 230Z" fill="rgb(92,92,92)"/>
</g>
<g filter="url(#b12)">
<path d="M1681 274C1685 266 1713 254 1731 244C1749 235 1774 224 1790 220C1807 216 1825 215 1830 220C1835 225 1832 241 1820 249C1809 258 1779 262 1761 269C1742 277 1724 293 1711 294C1698 295 1678 283 1681 274Z" fill="rgb(118,118,118)"/>
</g>
<g filter="url(#b18)">
<path d="M1790 344C1795 335 1815 320 1830 309C1845 298 1866 283 1880 279C1893 276 1908 282 1909 289C1911 297 1901 314 1890 324C1878 334 1854 342 1840 349C1826 355 1814 364 1805 364C1797 363 1786 353 1790 344Z" fill="rgb(103,103,103)"/>
<path d="M1488 388C1509 368 1573 378 1612 378C1651 378 1701 378 1721 388C1741 398 1733 420 1731 438C1729 456 1720 481 1711 497C1702 514 1693 529 1676 537C1660 545 1631 549 1612 547C1593 545 1583 535 1562 527C1542 520 1500 526 1488 502C1476 479 1467 409 1488 388Z" fill="rgb(92,92,92)"/>
</g>
<g filter="url(#b12)">
<ellipse cx="1676" cy="502" rx="25" ry="15" fill="rgb(118,118,118)" transform="rotate(0 1676 502)"/>
<ellipse cx="1552" cy="398" rx="30" ry="20" fill="rgb(107,107,107)" transform="rotate(0 1552 398)"/>
<ellipse cx="1845" cy="473" rx="40" ry="17" fill="rgb(96,96,96)" transform="rotate(0 1845 473)"/>
</g>
<g filter="url(#b18)">
<path d="M1488 577C1500 571 1543 583 1562 592C1581 600 1594 616 1602 626C1610 637 1619 653 1612 656C1605 660 1583 651 1562 646C1542 641 1500 638 1488 626C1476 615 1476 583 1488 577Z" fill="rgb(92,92,92)"/>
<path d="M1954 190C1972 175 2023 169 2058 165C2094 161 2148 154 2167 165C2186 176 2174 206 2172 230C2171 253 2165 285 2157 304C2150 323 2144 334 2128 344C2111 354 2082 361 2058 364C2034 366 2001 364 1984 359C1966 353 1960 346 1954 329C1948 311 1949 278 1949 254C1949 231 1936 205 1954 190Z" fill="rgb(96,96,96)"/>
</g>
<g filter="url(#b12)">
<ellipse cx="2053" cy="254" rx="25" ry="20" fill="rgb(122,122,122)" transform="rotate(0 2053 254)"/>
<ellipse cx="2018" cy="287" rx="20" ry="15" fill="rgb(111,111,111)" transform="rotate(0 2018 287)"/>
<ellipse cx="1959" cy="351" rx="12" ry="10" fill="rgb(111,111,111)" transform="rotate(0 1959 351)"/>
</g>
<g filter="url(#b18)">
<path d="M2172 329C2180 320 2198 306 2217 304C2236 302 2263 311 2286 319C2309 326 2339 340 2356 349C2372 358 2394 369 2385 373C2377 378 2336 374 2306 373C2276 373 2229 371 2207 369C2185 366 2178 365 2172 359C2166 352 2165 338 2172 329Z" fill="rgb(100,100,100)"/>
</g>
<g filter="url(#b12)">
<ellipse cx="2256" cy="329" rx="40" ry="15" fill="rgb(118,118,118)" transform="rotate(0 2256 329)"/>
</g>
<g filter="url(#b18)">
<path d="M2217 205C2223 199 2263 192 2286 190C2309 188 2339 190 2356 195C2372 200 2390 214 2385 220C2380 225 2349 229 2326 230C2303 230 2265 229 2247 225C2228 221 2210 211 2217 205Z" fill="rgb(100,100,100)"/>
</g>
<g filter="url(#b12)">
<ellipse cx="2316" cy="205" rx="25" ry="12" fill="rgb(118,118,118)" transform="rotate(0 2316 205)"/>
</g>
<g filter="url(#b18)">
<path d="M2390 165C2431 146 2593 131 2633 165C2674 199 2655 334 2633 369C2612 403 2542 380 2504 373C2466 367 2424 345 2405 329C2386 313 2393 306 2390 279C2388 252 2350 184 2390 165Z" fill="rgb(96,96,96)"/>
</g>
<g filter="url(#b12)">
<ellipse cx="2430" cy="200" rx="30" ry="15" fill="rgb(118,118,118)" transform="rotate(0 2430 200)"/>
<ellipse cx="2529" cy="240" rx="35" ry="25" fill="rgb(118,118,118)" transform="rotate(0 2529 240)"/>
</g>
<g filter="url(#b28)">
<path d="M2356 378C2407 365 2587 346 2633 378C2680 411 2674 540 2633 572C2593 604 2437 579 2390 572C2344 564 2366 546 2356 527C2345 508 2326 483 2326 458C2326 433 2304 392 2356 378Z" fill="rgb(89,89,89)"/>
</g>
<g filter="url(#b18)">
<path d="M1954 388C1971 378 2022 380 2058 378C2095 377 2139 375 2172 378C2205 382 2231 385 2256 398C2282 411 2309 438 2326 458C2342 478 2359 504 2356 517C2352 531 2327 540 2306 537C2285 534 2254 502 2232 497C2209 493 2193 507 2172 507C2152 507 2131 504 2108 497C2085 491 2058 478 2033 468C2009 458 1972 451 1959 438C1946 425 1938 398 1954 388Z" fill="rgb(96,96,96)"/>
</g>
<g filter="url(#b12)">
<path d="M2083 448C2091 450 2118 453 2133 458C2147 463 2166 474 2172 478" fill="none" stroke="rgb(132,132,132)" stroke-width="22" stroke-linecap="round" stroke-linejoin="round"/>
<path d="M2247 473C2253 478 2276 498 2286 507C2296 517 2303 524 2306 527" fill="none" stroke="rgb(129,129,129)" stroke-width="18" stroke-linecap="round" stroke-linejoin="round"/>
<path d="M2172 478C2173 483 2176 502 2177 507" fill="none" stroke="rgb(125,125,125)" stroke-width="13" stroke-linecap="round" stroke-linejoin="round"/>
</g>
<g filter="url(#b4)">
<ellipse cx="2217" cy="408" rx="15" ry="6" fill="rgb(118,118,118)" transform="rotate(0 2217 408)"/>
</g>
<g filter="url(#b18)">
<path d="M1979 537C1986 532 2012 545 2033 557C2055 569 2085 590 2108 607C2131 623 2161 645 2172 656C2183 668 2191 673 2172 676C2153 679 2085 684 2058 676C2031 668 2020 641 2009 626C1997 612 1994 602 1989 587C1984 572 1971 542 1979 537Z" fill="rgb(100,100,100)"/>
</g>
<g filter="url(#b12)">
<ellipse cx="2083" cy="607" rx="30" ry="12" fill="rgb(118,118,118)" transform="rotate(35 2083 607)"/>
</g>
<g filter="url(#b18)">
<path d="M2390 587C2400 578 2414 574 2455 572C2495 570 2604 559 2633 577C2663 594 2663 660 2633 676C2604 693 2494 684 2455 676C2415 668 2406 641 2395 626C2385 612 2380 596 2390 587Z" fill="rgb(103,103,103)"/>
</g>
<g filter="url(#b12)">
<ellipse cx="2559" cy="602" rx="25" ry="20" fill="rgb(125,125,125)" transform="rotate(0 2559 602)"/>
<ellipse cx="2435" cy="636" rx="20" ry="12" fill="rgb(118,118,118)" transform="rotate(0 2435 636)"/>
</g>
<g filter="url(#b18)">
<path d="M2172 626C2186 620 2231 633 2256 636C2282 640 2309 640 2326 646C2342 653 2381 671 2356 676C2330 681 2203 684 2172 676C2142 668 2158 633 2172 626Z" fill="rgb(96,96,96)"/>
</g>
<g filter="url(#b12)">
<path d="M2326 254C2337 243 2374 235 2395 240C2417 244 2436 265 2455 279C2474 293 2504 313 2509 324C2514 335 2497 343 2485 344C2472 345 2451 332 2435 329C2418 326 2404 327 2385 324C2367 321 2336 321 2326 309C2316 297 2314 266 2326 254Z" fill="rgb(60,60,60)"/>
</g>
<g filter="url(#b18)">
<path d="M2544 388C2561 377 2618 357 2633 378C2648 400 2645 496 2633 517C2622 539 2580 519 2564 507C2547 496 2537 468 2534 448C2531 428 2528 400 2544 388Z" fill="rgb(74,74,74)"/>
</g>
<g filter="url(#b4)">
<path d="M2455 458C2461 461 2480 473 2494 478C2509 483 2536 486 2544 488" fill="none" stroke="rgb(71,71,71)" stroke-width="9" stroke-linecap="round" stroke-linejoin="round"/>
</g>
<g filter="url(#b18)">
<path d="M1488 654C1525 638 1676 643 1711 654C1747 665 1709 703 1701 719C1693 734 1685 741 1661 748C1638 756 1591 763 1562 763C1533 764 1500 772 1488 753C1476 735 1451 671 1488 654Z" fill="rgb(84,84,84)"/>
</g>
<g filter="url(#b12)">
<path d="M1488 892C1497 888 1526 884 1542 887C1559 891 1574 909 1587 912C1600 916 1611 913 1622 907C1633 901 1642 886 1652 877C1661 869 1669 868 1676 858C1684 847 1690 820 1696 813C1702 806 1709 807 1711 818C1714 829 1703 865 1711 877C1719 890 1752 887 1761 892C1770 897 1771 900 1766 907C1761 915 1742 934 1731 937C1720 940 1713 930 1701 927C1690 924 1678 917 1661 917C1645 917 1620 928 1602 927C1584 926 1571 915 1552 912C1533 910 1499 916 1488 912C1477 909 1479 896 1488 892Z" fill="rgb(100,100,100)"/>
<path d="M1701 957C1707 951 1719 949 1731 952C1742 955 1756 968 1771 977C1785 986 1813 998 1820 1006C1828 1015 1825 1025 1815 1026C1805 1028 1776 1021 1761 1016C1745 1012 1732 1006 1721 1001C1710 997 1700 994 1696 987C1693 979 1695 963 1701 957Z" fill="rgb(107,107,107)"/>
</g>
<g filter="url(#b4)">
<ellipse cx="1776" cy="1001" rx="30" ry="10" fill="rgb(122,122,122)" transform="rotate(25 1776 1001)"/>
</g>
<g filter="url(#b12)">
<path d="M2028 1066C2030 1058 2047 1044 2058 1036C2070 1028 2085 1020 2098 1016C2111 1013 2130 1013 2137 1016C2145 1020 2147 1028 2142 1036C2137 1044 2118 1057 2108 1066C2097 1075 2088 1087 2078 1091C2068 1094 2056 1090 2048 1086C2040 1082 2027 1074 2028 1066Z" fill="rgb(118,118,118)"/>
</g>
<g filter="url(#b4)">
<path d="M2058 1066C2066 1060 2099 1037 2108 1031" fill="none" stroke="rgb(132,132,132)" stroke-width="13" stroke-linecap="round" stroke-linejoin="round"/>
</g>
<g filter="url(#b12)">
<ellipse cx="1904" cy="1140" rx="22" ry="10" fill="rgb(96,96,96)" transform="rotate(0 1904 1140)"/>
</g>
<g filter="url(#b18)">
<path d="M2028 654C2043 643 2148 635 2172 654C2196 673 2179 750 2172 768C2166 787 2147 772 2133 763C2118 755 2100 737 2083 719C2066 701 2014 665 2028 654Z" fill="rgb(103,103,103)"/>
<path d="M2172 654C2209 635 2354 635 2390 654C2427 673 2427 749 2390 768C2354 787 2209 787 2172 768C2136 749 2136 673 2172 654Z" fill="rgb(103,103,103)"/>
</g>
<g filter="url(#b4)">
<ellipse cx="2192" cy="711" rx="20" ry="6" fill="rgb(132,132,132)" transform="rotate(0 2192 711)"/>
</g>
<g filter="url(#b12)">
<ellipse cx="2242" cy="739" rx="15" ry="20" fill="rgb(118,118,118)" transform="rotate(0 2242 739)"/>
</g>
<g filter="url(#b18)">
<path d="M2390 654C2431 635 2593 635 2633 654C2674 673 2674 749 2633 768C2593 787 2431 787 2390 768C2350 749 2350 673 2390 654Z" fill="rgb(96,96,96)"/>
</g>
<g filter="url(#b28)">
<path d="M2197 818C2205 808 2224 816 2256 808C2289 800 2328 775 2390 768C2453 762 2593 702 2633 768C2674 834 2696 1099 2633 1165C2570 1231 2326 1173 2256 1165C2187 1157 2212 1132 2217 1116C2222 1099 2263 1083 2286 1066C2309 1049 2356 1029 2356 1016C2356 1004 2311 1000 2286 992C2261 983 2226 981 2207 967C2188 953 2172 924 2172 907C2172 891 2203 882 2207 868C2211 853 2189 828 2197 818Z" fill="rgb(107,107,107)"/>
</g>
<g filter="url(#b18)">
<path d="M2217 987C2230 982 2260 990 2286 997C2313 1003 2356 1015 2375 1026C2395 1038 2413 1058 2405 1066C2397 1074 2351 1076 2326 1076C2301 1076 2276 1074 2256 1066C2237 1058 2214 1040 2207 1026C2200 1013 2204 992 2217 987Z" fill="rgb(78,78,78)"/>
</g>
<g filter="url(#b28)">
<path d="M2455 778C2486 766 2604 739 2633 768C2663 798 2655 924 2633 957C2612 990 2534 973 2504 967C2475 960 2465 938 2455 917C2445 896 2445 866 2445 843C2445 820 2423 791 2455 778Z" fill="rgb(111,111,111)"/>
</g>
<g filter="url(#b18)">
<ellipse cx="2400" cy="907" rx="55" ry="50" fill="rgb(132,132,132)" transform="rotate(0 2400 907)"/>
</g>
<g filter="url(#b12)">
<ellipse cx="2254" cy="913" rx="40" ry="22" fill="rgb(154,154,154)" transform="rotate(0 2254 913)"/>
<ellipse cx="2331" cy="920" rx="40" ry="22" fill="rgb(154,154,154)" transform="rotate(0 2331 920)"/>
</g>
<g filter="url(#b4)">
<ellipse cx="2410" cy="935" rx="20" ry="19" fill="rgb(209,209,209)" transform="rotate(0 2410 935)"/>
<ellipse cx="2380" cy="925" rx="15" ry="12" fill="rgb(205,205,205)" transform="rotate(0 2380 925)"/>
<ellipse cx="2331" cy="920" rx="25" ry="11" fill="rgb(191,191,191)" transform="rotate(0 2331 920)"/>
<ellipse cx="2254" cy="913" rx="20" ry="7" fill="rgb(212,212,212)" transform="rotate(0 2254 913)"/>
</g>
<g filter="url(#b12)">
<ellipse cx="2356" cy="853" rx="25" ry="20" fill="rgb(140,140,140)" transform="rotate(0 2356 853)"/>
<ellipse cx="2420" cy="877" rx="15" ry="20" fill="rgb(147,147,147)" transform="rotate(0 2420 877)"/>
<ellipse cx="2440" cy="783" rx="25" ry="10" fill="rgb(140,140,140)" transform="rotate(0 2440 783)"/>
</g>
<g filter="url(#b18)">
<path d="M2480 987C2488 974 2528 971 2554 967C2580 963 2620 945 2633 962C2647 978 2647 1049 2633 1066C2620 1083 2575 1065 2554 1061C2532 1057 2517 1054 2504 1041C2492 1029 2471 999 2480 987Z" fill="rgb(154,154,154)"/>
</g>
<g filter="url(#b4)">
<ellipse cx="2549" cy="1019" rx="21" ry="16" fill="rgb(191,191,191)" transform="rotate(0 2549 1019)"/>
</g>
<g filter="url(#b18)">
<path d="M2390 1106C2401 1089 2414 1073 2455 1066C2495 1059 2604 1049 2633 1066C2663 1083 2674 1149 2633 1165C2593 1182 2431 1175 2390 1165C2350 1155 2380 1122 2390 1106Z" fill="rgb(132,132,132)"/>
</g>
<g filter="url(#b12)">
<path d="M2485 1116C2488 1120 2496 1132 2504 1140C2513 1149 2529 1161 2534 1165" fill="none" stroke="rgb(67,67,67)" stroke-width="22" stroke-linecap="round" stroke-linejoin="round"/>
<ellipse cx="2529" cy="1096" rx="30" ry="20" fill="rgb(154,154,154)" transform="rotate(0 2529 1096)"/>
</g>
<g filter="url(#b18)">
<path d="M2172 1086C2191 1073 2267 1073 2286 1086C2305 1099 2305 1152 2286 1165C2267 1178 2191 1178 2172 1165C2153 1152 2153 1099 2172 1086Z" fill="rgb(96,96,96)"/>
</g>
<g filter="url(#b28)">
<path d="M528 1200C538 1193 574 1191 593 1191C611 1190 633 1186 640 1197C647 1207 641 1241 634 1256C627 1270 608 1271 599 1282C590 1293 590 1313 581 1323C572 1334 557 1345 546 1347C534 1349 519 1343 513 1335C508 1327 511 1310 513 1300C516 1290 528 1285 528 1276C528 1267 512 1254 513 1247C514 1239 531 1240 534 1232C536 1224 518 1206 528 1200Z" fill="rgb(66,66,66)"/>
<path d="M401 1217C409 1201 428 1210 445 1211C463 1213 492 1219 504 1226C517 1233 519 1245 519 1256C519 1266 512 1282 504 1291C497 1300 487 1306 475 1312C463 1317 443 1323 431 1323C418 1323 406 1329 401 1312C396 1294 394 1234 401 1217Z" fill="rgb(132,132,132)"/>
<path d="M534 1152C544 1145 585 1146 593 1152C601 1158 587 1179 581 1188C575 1196 565 1202 557 1203C550 1203 538 1202 534 1194C530 1185 524 1159 534 1152Z" fill="rgb(132,132,132)"/>
<path d="M401 1323C416 1308 468 1316 490 1318C512 1320 517 1331 534 1335C551 1339 576 1339 593 1341C609 1343 627 1338 634 1347C641 1356 641 1384 634 1394C627 1405 607 1414 593 1409C579 1404 563 1375 549 1365C534 1355 517 1344 504 1350C492 1356 492 1390 475 1400C458 1410 414 1422 401 1409C389 1396 387 1339 401 1323Z" fill="rgb(96,96,96)"/>
</g>
<g filter="url(#b18)">
<path d="M622 1256C627 1246 643 1242 652 1247C660 1251 670 1269 672 1282C675 1295 670 1310 666 1323C663 1337 655 1350 652 1365C649 1380 652 1402 649 1412C645 1422 636 1427 631 1424C627 1421 623 1407 622 1394C622 1381 628 1362 628 1347C628 1332 623 1321 622 1306C621 1291 617 1265 622 1256Z" fill="rgb(100,100,100)"/>
</g>
<g filter="url(#b12)">
<ellipse cx="513" cy="1380" rx="21" ry="15" fill="rgb(67,67,67)" transform="rotate(0 513 1380)"/>
</g>
<g filter="url(#b28)">
<path d="M401 1453C409 1434 431 1431 445 1424C460 1416 476 1418 490 1409C503 1400 518 1378 528 1371C538 1363 543 1362 549 1365C554 1368 558 1380 563 1388C569 1397 576 1409 581 1418C586 1426 593 1433 593 1439C593 1444 587 1450 581 1453C575 1457 563 1454 557 1459C552 1464 553 1474 549 1483C545 1492 541 1502 534 1512C527 1522 517 1536 504 1542C492 1548 477 1548 460 1548C443 1548 411 1557 401 1542C391 1526 394 1473 401 1453Z" fill="rgb(132,132,132)"/>
<path d="M640 1197C648 1180 665 1180 681 1176C698 1172 723 1168 740 1170C757 1172 778 1177 784 1188C790 1198 780 1218 775 1232C771 1246 766 1262 755 1270C744 1279 724 1278 711 1282C697 1286 685 1287 675 1294C665 1301 659 1315 652 1323C645 1332 639 1347 634 1347C629 1347 622 1335 622 1323C622 1312 631 1297 634 1276C637 1255 632 1213 640 1197Z" fill="rgb(89,89,89)"/>
<path d="M858 1188C864 1177 873 1158 887 1152C902 1146 937 1144 946 1152C956 1161 948 1187 946 1203C944 1218 940 1233 935 1247C930 1260 923 1272 917 1282C911 1292 906 1304 899 1306C892 1307 883 1298 876 1291C869 1284 862 1274 858 1262C854 1249 852 1230 852 1217C852 1205 852 1199 858 1188Z" fill="rgb(129,129,129)"/>
<path d="M946 1152C951 1144 971 1119 976 1152C981 1186 980 1321 976 1353C972 1385 958 1360 952 1347C946 1334 941 1300 941 1276C940 1252 945 1223 946 1203C947 1182 941 1161 946 1152Z" fill="rgb(31,31,31)"/>
<path d="M1003 1152C1036 1137 1162 1146 1200 1152C1238 1158 1215 1172 1230 1188C1244 1203 1269 1234 1289 1247C1308 1259 1328 1260 1347 1262C1367 1263 1377 1258 1406 1256C1436 1253 1505 1189 1524 1247C1544 1304 1534 1549 1524 1601C1514 1652 1480 1569 1465 1557C1451 1544 1451 1537 1436 1527C1421 1517 1397 1510 1377 1498C1357 1485 1338 1468 1318 1453C1298 1439 1279 1424 1259 1409C1239 1394 1220 1379 1200 1365C1180 1350 1161 1333 1141 1323C1122 1314 1102 1310 1082 1306C1063 1302 1037 1310 1023 1300C1010 1290 1006 1271 1003 1247C999 1222 970 1168 1003 1152Z" fill="rgb(136,136,136)"/>
<path d="M950 1182C956 1164 979 1179 988 1188C997 1196 1002 1217 1003 1232C1004 1247 998 1266 994 1276C990 1287 986 1291 979 1294C972 1297 955 1313 950 1294C945 1275 943 1200 950 1182Z" fill="rgb(31,31,31)"/>
<path d="M982 1176C988 1172 1010 1165 1023 1167C1037 1169 1053 1179 1062 1188C1070 1196 1075 1207 1073 1217C1072 1227 1061 1239 1053 1247C1044 1254 1031 1254 1023 1262C1016 1269 1014 1288 1009 1291C1003 1294 990 1290 988 1282C985 1275 991 1258 994 1247C996 1236 1004 1226 1003 1217C1001 1208 988 1201 985 1194C982 1187 976 1180 982 1176Z" fill="rgb(147,147,147)"/>
<path d="M1333 1152C1363 1142 1492 1135 1524 1152C1556 1170 1534 1235 1524 1256C1514 1276 1485 1271 1465 1276C1446 1281 1426 1288 1406 1285C1387 1283 1358 1273 1347 1262C1337 1250 1347 1235 1344 1217C1342 1199 1303 1163 1333 1152Z" fill="rgb(100,100,100)"/>
<path d="M1156 1170C1163 1175 1188 1188 1200 1203C1212 1217 1217 1237 1230 1256C1242 1274 1262 1291 1277 1312C1291 1332 1301 1362 1318 1377C1335 1391 1356 1391 1377 1400C1398 1409 1427 1423 1442 1433C1456 1442 1461 1455 1465 1459" fill="none" stroke="rgb(158,158,158)" stroke-width="53" stroke-linecap="round" stroke-linejoin="round"/>
<path d="M1293 1291C1302 1299 1329 1325 1347 1341C1366 1357 1387 1375 1406 1388C1426 1402 1448 1413 1465 1424C1483 1435 1505 1448 1513 1453" fill="none" stroke="rgb(151,151,151)" stroke-width="66" stroke-linecap="round" stroke-linejoin="round"/>
<path d="M1206 1176C1211 1172 1245 1170 1259 1173C1274 1176 1281 1189 1293 1194C1306 1198 1324 1196 1333 1200C1341 1203 1344 1209 1344 1217C1345 1225 1342 1240 1336 1247C1329 1253 1314 1257 1306 1256C1298 1255 1296 1247 1289 1241C1281 1234 1269 1225 1259 1217C1249 1210 1238 1203 1230 1197C1221 1190 1201 1180 1206 1176Z" fill="rgb(83,83,83)"/>
<path d="M1436 1453C1448 1441 1510 1414 1524 1439C1539 1463 1529 1580 1524 1601C1519 1622 1507 1580 1495 1565C1482 1551 1460 1531 1451 1512C1441 1494 1424 1466 1436 1453Z" fill="rgb(140,140,140)"/>
<ellipse cx="1406" cy="1203" rx="44" ry="30" fill="rgb(125,125,125)" transform="rotate(0 1406 1203)"/>
<path d="M994 1270C1009 1259 1032 1285 1053 1294C1073 1303 1098 1316 1118 1323C1137 1331 1157 1334 1171 1341C1184 1348 1188 1356 1200 1365C1212 1374 1229 1384 1244 1394C1260 1404 1276 1411 1293 1424C1310 1436 1329 1457 1347 1468C1366 1479 1389 1481 1406 1489C1424 1496 1438 1501 1451 1512C1463 1524 1471 1544 1483 1557C1495 1569 1517 1569 1524 1586C1531 1603 1541 1653 1524 1660C1508 1666 1455 1644 1424 1624C1393 1605 1368 1566 1336 1545C1303 1523 1267 1516 1230 1495C1192 1473 1156 1440 1112 1418C1068 1396 984 1386 964 1362C945 1337 979 1282 994 1270Z" fill="rgb(74,74,74)"/>
<path d="M1731 1217C1767 1207 1913 1207 1949 1217C1985 1227 1985 1266 1949 1276C1913 1286 1767 1286 1731 1276C1695 1266 1695 1227 1731 1217Z" fill="rgb(74,74,74)"/>
<path d="M1483 1217C1525 1197 1690 1206 1731 1229C1772 1252 1772 1332 1731 1353C1690 1374 1525 1376 1483 1353C1442 1330 1442 1238 1483 1217Z" fill="rgb(103,103,103)"/>
<path d="M1949 1146C1986 1112 2134 1112 2171 1146C2208 1181 2208 1319 2171 1353C2134 1387 1986 1387 1949 1353C1912 1319 1912 1181 1949 1146Z" fill="rgb(111,111,111)"/>
<path d="M1483 1335C1518 1308 1643 1312 1690 1323C1736 1335 1760 1387 1760 1406C1760 1425 1716 1431 1690 1436C1663 1440 1631 1427 1601 1436C1572 1444 1532 1480 1513 1489C1493 1498 1488 1514 1483 1489C1478 1463 1449 1363 1483 1335Z" fill="rgb(140,140,140)"/>
<path d="M1483 1536C1503 1520 1564 1529 1601 1530C1639 1531 1685 1533 1707 1542C1730 1551 1736 1568 1737 1583C1738 1598 1731 1620 1713 1630C1696 1640 1656 1640 1631 1642C1605 1644 1584 1645 1560 1642C1535 1639 1496 1642 1483 1624C1470 1607 1464 1552 1483 1536Z" fill="rgb(151,151,151)"/>
<path d="M1843 1394C1849 1380 1916 1368 1949 1353C1983 1338 2006 1317 2043 1306C2080 1295 2136 1280 2171 1288C2205 1296 2246 1330 2250 1353C2253 1376 2213 1401 2191 1424C2168 1446 2137 1474 2114 1489C2092 1503 2077 1516 2055 1512C2034 1508 2008 1478 1984 1465C1961 1452 1937 1447 1914 1436C1890 1424 1837 1408 1843 1394Z" fill="rgb(151,151,151)"/>
<path d="M1737 1559C1756 1552 1812 1563 1843 1571C1874 1579 1906 1597 1926 1607C1945 1616 1961 1620 1961 1630C1961 1640 1945 1658 1926 1666C1906 1674 1870 1677 1843 1677C1815 1677 1780 1675 1760 1666C1741 1656 1729 1636 1725 1618C1721 1601 1717 1567 1737 1559Z" fill="rgb(103,103,103)"/>
<path d="M2046 1323C2059 1303 2099 1307 2120 1300C2141 1293 2161 1296 2173 1282C2185 1268 2183 1232 2194 1217C2205 1203 2216 1202 2238 1197C2260 1192 2301 1191 2326 1188C2352 1184 2365 1182 2390 1176C2415 1170 2450 1156 2474 1152C2497 1148 2523 1146 2533 1152C2542 1158 2538 1177 2533 1188C2527 1199 2512 1207 2497 1217C2482 1227 2458 1236 2444 1247C2430 1258 2429 1270 2415 1282C2400 1294 2371 1308 2356 1318C2341 1327 2341 1333 2326 1341C2312 1349 2287 1356 2267 1365C2248 1374 2224 1384 2208 1394C2193 1404 2188 1416 2173 1424C2158 1431 2141 1439 2120 1439C2099 1439 2059 1443 2046 1424C2034 1405 2034 1344 2046 1323Z" fill="rgb(147,147,147)"/>
<path d="M2046 1439C2059 1420 2099 1441 2120 1439C2141 1436 2158 1431 2173 1424C2188 1416 2193 1404 2208 1394C2224 1384 2248 1374 2267 1365C2287 1356 2312 1349 2326 1341C2341 1333 2341 1327 2356 1318C2371 1308 2400 1294 2415 1282C2429 1270 2430 1258 2444 1247C2458 1236 2482 1227 2497 1217C2512 1207 2522 1190 2533 1188C2543 1185 2562 1190 2562 1203C2562 1215 2545 1243 2533 1262C2520 1280 2503 1297 2488 1312C2474 1326 2461 1335 2444 1347C2427 1359 2405 1370 2385 1382C2366 1395 2346 1409 2326 1424C2307 1439 2287 1456 2267 1471C2248 1486 2228 1500 2208 1512C2189 1524 2177 1535 2150 1542C2123 1548 2064 1568 2046 1551C2029 1533 2034 1457 2046 1439Z" fill="rgb(103,103,103)"/>
<path d="M2046 1551C2064 1531 2123 1548 2150 1542C2177 1535 2189 1524 2208 1512C2228 1500 2248 1486 2267 1471C2287 1456 2307 1439 2326 1424C2346 1409 2366 1395 2385 1382C2405 1370 2427 1359 2444 1347C2461 1335 2474 1326 2488 1312C2503 1297 2520 1280 2533 1262C2545 1243 2560 1221 2562 1203C2565 1184 2538 1161 2547 1152C2557 1144 2609 1117 2621 1152C2633 1188 2633 1328 2621 1365C2609 1401 2572 1365 2547 1371C2523 1377 2500 1386 2474 1400C2447 1414 2419 1434 2390 1453C2361 1473 2324 1498 2297 1518C2270 1538 2253 1553 2226 1571C2199 1590 2155 1616 2135 1630C2114 1645 2117 1655 2102 1660C2088 1665 2056 1678 2046 1660C2037 1642 2029 1570 2046 1551Z" fill="rgb(53,53,53)"/>
<path d="M2046 1152C2067 1146 2150 1147 2170 1152C2191 1157 2179 1175 2170 1182C2162 1189 2141 1193 2120 1194C2099 1195 2059 1195 2046 1188C2034 1181 2026 1158 2046 1152Z" fill="rgb(82,82,82)"/>
</g>
<g filter="url(#b12)">
<path d="M425 1521C427 1517 437 1511 445 1506C454 1502 468 1502 475 1495C482 1487 483 1469 490 1462C496 1455 507 1460 513 1453C519 1447 522 1434 525 1424C528 1414 531 1399 534 1394C537 1389 541 1386 543 1394C545 1402 546 1428 546 1441C545 1455 545 1466 540 1477C534 1488 521 1497 513 1506C505 1516 501 1530 493 1536C484 1542 471 1542 460 1542C450 1541 437 1536 431 1533C425 1529 422 1526 425 1521Z" fill="rgb(176,176,176)"/>
<path d="M549 1468C553 1466 564 1475 569 1483C575 1490 580 1502 581 1512C582 1522 578 1532 575 1542C572 1552 569 1564 563 1571C557 1579 548 1586 540 1586C531 1586 519 1577 513 1571C507 1565 502 1558 504 1551C507 1543 521 1536 528 1527C535 1518 542 1507 546 1498C549 1488 545 1470 549 1468Z" fill="rgb(42,42,42)"/>
<path d="M581 1453C583 1446 598 1439 605 1439C611 1439 620 1446 622 1453C625 1461 622 1473 619 1483C617 1493 608 1503 608 1512C607 1522 617 1530 616 1539C616 1548 609 1559 605 1565C600 1572 591 1580 587 1577C583 1575 581 1561 581 1551C582 1540 588 1524 590 1512C592 1501 594 1493 593 1483C591 1473 579 1461 581 1453Z" fill="rgb(111,111,111)"/>
<ellipse cx="596" cy="1527" rx="9" ry="24" fill="rgb(140,140,140)" transform="rotate(0 596 1527)"/>
<path d="M401 1559C407 1549 426 1565 434 1571C441 1577 442 1587 445 1595C449 1603 456 1612 454 1618C452 1625 443 1633 434 1636C425 1639 407 1649 401 1636C396 1623 396 1570 401 1559Z" fill="rgb(125,125,125)"/>
<path d="M445 1554C452 1548 477 1547 490 1551C502 1555 517 1569 519 1577C522 1586 513 1596 504 1601C496 1606 478 1610 469 1607C460 1604 455 1592 451 1583C447 1574 439 1559 445 1554Z" fill="rgb(34,34,34)"/>
<ellipse cx="460" cy="1247" rx="35" ry="18" fill="rgb(154,154,154)" transform="rotate(0 460 1247)"/>
<path d="M950 1291C959 1281 991 1294 1009 1300C1026 1305 1040 1317 1053 1323C1066 1330 1077 1336 1088 1341C1099 1346 1107 1349 1118 1353C1128 1357 1141 1358 1153 1365C1165 1372 1176 1385 1188 1394C1201 1403 1218 1410 1230 1418C1241 1426 1248 1434 1259 1441C1270 1449 1281 1456 1293 1465C1306 1474 1319 1487 1333 1495C1347 1502 1362 1508 1377 1512C1392 1516 1412 1513 1424 1518C1436 1523 1441 1533 1448 1542C1455 1551 1457 1562 1465 1571C1473 1580 1485 1588 1495 1595C1505 1602 1519 1602 1524 1613C1529 1623 1534 1652 1524 1660C1514 1668 1482 1666 1465 1660C1449 1654 1439 1637 1424 1624C1409 1612 1392 1599 1377 1586C1362 1573 1350 1555 1336 1545C1321 1534 1306 1532 1289 1524C1271 1516 1249 1506 1230 1495C1210 1483 1190 1469 1171 1456C1151 1443 1131 1429 1112 1418C1092 1407 1077 1401 1053 1391C1028 1382 982 1367 964 1362C947 1356 952 1371 950 1359C947 1347 940 1301 950 1291Z" fill="rgb(34,34,34)"/>
<path d="M1177 1288C1173 1293 1161 1309 1153 1318C1145 1326 1136 1333 1129 1341C1123 1349 1117 1358 1112 1365C1106 1372 1099 1380 1097 1382" fill="none" stroke="rgb(38,38,38)" stroke-width="22" stroke-linecap="round" stroke-linejoin="round"/>
<ellipse cx="1050" cy="1300" rx="12" ry="15" fill="rgb(60,60,60)" transform="rotate(0 1050 1300)"/>
<ellipse cx="1147" cy="1380" rx="29" ry="12" fill="rgb(89,89,89)" transform="rotate(0 1147 1380)"/>
<ellipse cx="1244" cy="1453" rx="35" ry="15" fill="rgb(89,89,89)" transform="rotate(0 1244 1453)"/>
<ellipse cx="1377" cy="1536" rx="35" ry="12" fill="rgb(89,89,89)" transform="rotate(0 1377 1536)"/>
<path d="M1595 1453C1597 1444 1619 1441 1631 1447C1642 1453 1653 1478 1666 1489C1679 1499 1701 1503 1707 1512C1713 1521 1709 1540 1701 1542C1694 1544 1674 1531 1660 1524C1646 1517 1630 1512 1619 1500C1608 1489 1593 1462 1595 1453Z" fill="rgb(34,34,34)"/>
<path d="M1501 1524C1518 1523 1575 1521 1601 1518C1628 1515 1650 1508 1660 1506" fill="none" stroke="rgb(45,45,45)" stroke-width="18" stroke-linecap="round" stroke-linejoin="round"/>
<path d="M1701 1524C1711 1522 1743 1510 1760 1512C1778 1514 1794 1534 1808 1536C1821 1538 1837 1526 1843 1524" fill="none" stroke="rgb(38,38,38)" stroke-width="18" stroke-linecap="round" stroke-linejoin="round"/>
<path d="M1501 1329C1513 1330 1550 1336 1572 1335C1593 1334 1611 1321 1631 1323C1650 1326 1672 1346 1690 1353C1707 1360 1729 1363 1737 1365" fill="none" stroke="rgb(53,53,53)" stroke-width="18" stroke-linecap="round" stroke-linejoin="round"/>
<path d="M2020 1565C2029 1566 2054 1571 2073 1571C2092 1571 2116 1561 2132 1565C2148 1569 2164 1590 2171 1595" fill="none" stroke="rgb(23,23,23)" stroke-width="22" stroke-linecap="round" stroke-linejoin="round"/>
<path d="M2173 1288C2169 1286 2192 1276 2203 1270C2213 1265 2234 1262 2238 1256C2242 1249 2232 1237 2226 1232C2220 1227 2203 1230 2203 1226C2203 1222 2215 1210 2226 1208C2237 1206 2252 1214 2267 1214C2283 1214 2306 1211 2320 1208C2335 1206 2344 1203 2356 1200C2367 1196 2378 1191 2390 1188C2402 1185 2416 1185 2429 1182C2443 1179 2462 1172 2474 1170C2485 1168 2489 1168 2497 1170C2505 1172 2521 1178 2521 1182C2521 1185 2504 1187 2497 1191C2490 1195 2488 1203 2480 1205C2471 1208 2455 1203 2444 1205C2433 1207 2424 1212 2415 1217C2406 1222 2400 1229 2390 1235C2380 1241 2369 1247 2356 1253C2343 1259 2326 1265 2312 1270C2297 1275 2282 1280 2267 1282C2253 1285 2242 1284 2226 1285C2210 1286 2177 1291 2173 1288Z" fill="rgb(205,205,205)"/>
<path d="M2173 1294C2182 1289 2208 1292 2226 1291C2244 1290 2265 1287 2282 1288C2299 1290 2320 1294 2326 1300C2333 1306 2328 1318 2320 1323C2313 1329 2296 1331 2282 1335C2268 1339 2253 1347 2238 1347C2223 1347 2205 1339 2194 1335C2183 1331 2177 1330 2173 1323C2170 1317 2164 1299 2173 1294Z" fill="rgb(176,176,176)"/>
<path d="M2046 1565C2054 1560 2076 1558 2091 1559C2105 1560 2128 1565 2135 1571C2141 1577 2136 1590 2129 1595C2122 1600 2104 1602 2091 1601C2077 1600 2054 1595 2046 1589C2039 1583 2039 1570 2046 1565Z" fill="rgb(16,16,16)"/>
</g>
<g filter="url(#b4)">
<ellipse cx="466" cy="1518" rx="21" ry="13" fill="rgb(212,212,212)" transform="rotate(0 466 1518)"/>
<path d="M499 1480C503 1477 523 1468 528 1465" fill="none" stroke="rgb(191,191,191)" stroke-width="18" stroke-linecap="round" stroke-linejoin="round"/>
<path d="M529 1418C531 1422 538 1438 540 1441" fill="none" stroke="rgb(191,191,191)" stroke-width="9" stroke-linecap="round" stroke-linejoin="round"/>
<ellipse cx="563" cy="1425" rx="3" ry="6" fill="rgb(183,183,183)" transform="rotate(0 563 1425)"/>
<path d="M572 1428C575 1429 587 1434 590 1436" fill="none" stroke="rgb(183,183,183)" stroke-width="7" stroke-linecap="round" stroke-linejoin="round"/>
<ellipse cx="608" cy="1534" rx="4" ry="3" fill="rgb(169,169,169)" transform="rotate(0 608 1534)"/>
<ellipse cx="879" cy="1238" rx="4" ry="12" fill="rgb(183,183,183)" transform="rotate(0 879 1238)"/>
<ellipse cx="911" cy="1170" rx="6" ry="9" fill="rgb(169,169,169)" transform="rotate(0 911 1170)"/>
<ellipse cx="557" cy="1173" rx="3" ry="4" fill="rgb(169,169,169)" transform="rotate(0 557 1173)"/>
<path d="M1259 1323C1265 1328 1283 1344 1293 1353C1303 1362 1314 1373 1318 1377" fill="none" stroke="rgb(187,187,187)" stroke-width="13" stroke-linecap="round" stroke-linejoin="round"/>
<ellipse cx="1339" cy="1382" rx="8" ry="9" fill="rgb(191,191,191)" transform="rotate(0 1339 1382)"/>
<ellipse cx="1371" cy="1394" rx="9" ry="9" fill="rgb(198,198,198)" transform="rotate(0 1371 1394)"/>
<path d="M1400 1409C1404 1410 1415 1411 1424 1418C1433 1424 1449 1442 1454 1447" fill="none" stroke="rgb(183,183,183)" stroke-width="13" stroke-linecap="round" stroke-linejoin="round"/>
<ellipse cx="1375" cy="1430" rx="15" ry="6" fill="rgb(191,191,191)" transform="rotate(0 1375 1430)"/>
<ellipse cx="1409" cy="1484" rx="24" ry="9" fill="rgb(183,183,183)" transform="rotate(-20 1409 1484)"/>
<path d="M1159 1170C1161 1173 1169 1187 1171 1191" fill="none" stroke="rgb(183,183,183)" stroke-width="7" stroke-linecap="round" stroke-linejoin="round"/>
<path d="M1082 1238C1086 1241 1099 1253 1103 1256" fill="none" stroke="rgb(176,176,176)" stroke-width="7" stroke-linecap="round" stroke-linejoin="round"/>
<ellipse cx="992" cy="1191" rx="3" ry="7" fill="rgb(176,176,176)" transform="rotate(0 992 1191)"/>
<path d="M2320 1216C2326 1214 2350 1207 2356 1205" fill="none" stroke="rgb(241,241,241)" stroke-width="13" stroke-linecap="round" stroke-linejoin="round"/>
<path d="M2429 1194C2434 1193 2454 1189 2459 1188" fill="none" stroke="rgb(241,241,241)" stroke-width="13" stroke-linecap="round" stroke-linejoin="round"/>
<path d="M2253 1264C2260 1263 2289 1257 2297 1256" fill="none" stroke="rgb(234,234,234)" stroke-width="13" stroke-linecap="round" stroke-linejoin="round"/>
<ellipse cx="1572" cy="1607" rx="24" ry="12" fill="rgb(176,176,176)" transform="rotate(0 1572 1607)"/>
<ellipse cx="1678" cy="1279" rx="12" ry="5" fill="rgb(176,176,176)" transform="rotate(0 1678 1279)"/>
</g>
<g filter="url(#b12)">
<path d="M740 1098C748 1095 762 1109 770 1118C777 1128 780 1145 787 1154C795 1162 807 1162 814 1171C821 1180 822 1193 829 1207C835 1220 844 1241 852 1254C860 1267 868 1273 876 1283C884 1294 899 1311 899 1319C899 1327 887 1331 876 1331C864 1331 841 1325 829 1319C816 1313 814 1300 799 1295C784 1290 760 1289 740 1289C720 1289 692 1296 681 1295C670 1294 670 1288 672 1283C675 1278 685 1269 696 1266C707 1263 728 1268 740 1266C752 1263 764 1258 770 1251C775 1244 776 1235 775 1224C775 1214 771 1199 764 1189C757 1179 741 1175 734 1165C728 1156 724 1144 725 1133C726 1122 733 1100 740 1098Z" fill="rgb(23,23,23)"/>
<path d="M814 1171C818 1168 830 1158 837 1154C844 1149 852 1146 855 1145" fill="none" stroke="rgb(45,45,45)" stroke-width="18" stroke-linecap="round" stroke-linejoin="round"/>
<ellipse cx="560" cy="1177" rx="27" ry="15" fill="rgb(154,154,154)" transform="rotate(-35 560 1177)"/>
</g>
<g filter="url(#b4)">
<ellipse cx="557" cy="1174" rx="4" ry="7" fill="rgb(176,176,176)" transform="rotate(0 557 1174)"/>
<ellipse cx="911" cy="1165" rx="5" ry="12" fill="rgb(176,176,176)" transform="rotate(0 911 1165)"/>
<ellipse cx="879" cy="1236" rx="3" ry="10" fill="rgb(176,176,176)" transform="rotate(0 879 1236)"/>
</g>
<g filter="url(#b12)">
<path d="M784 994C788 987 803 986 808 994C812 1003 811 1031 811 1044C810 1058 808 1072 805 1077C802 1082 793 1081 790 1074C787 1067 788 1049 787 1036C786 1022 781 1001 784 994Z" fill="rgb(67,67,67)"/>
<path d="M1023 968C1031 964 1051 969 1062 974C1072 979 1077 991 1088 997C1099 1004 1116 1007 1129 1012C1143 1018 1155 1018 1171 1030C1186 1042 1214 1067 1224 1083C1234 1099 1233 1112 1230 1124C1227 1136 1219 1154 1206 1154C1193 1154 1168 1132 1153 1124C1138 1116 1129 1112 1118 1106C1106 1101 1092 1096 1082 1089C1073 1082 1068 1075 1062 1065C1055 1055 1048 1041 1041 1030C1034 1018 1020 1008 1017 997C1014 987 1016 972 1023 968Z" fill="rgb(83,83,83)"/>
</g>
<g filter="url(#b18)">
<path d="M1483 959C1492 948 1517 909 1524 953C1531 997 1534 1184 1524 1225C1514 1265 1480 1210 1465 1195C1451 1180 1436 1156 1436 1136C1436 1116 1459 1097 1465 1077C1471 1057 1468 1038 1471 1018C1474 998 1474 970 1483 959Z" fill="rgb(77,77,77)"/>
<ellipse cx="1412" cy="1189" rx="35" ry="24" fill="rgb(125,125,125)" transform="rotate(0 1412 1189)"/>
</g>
<g filter="url(#b12)">
<path d="M1194 1160C1198 1156 1219 1156 1230 1160C1240 1164 1248 1177 1259 1183C1270 1189 1280 1192 1293 1195C1306 1198 1327 1195 1336 1201C1344 1207 1344 1222 1344 1230C1344 1239 1342 1249 1336 1254C1329 1259 1314 1264 1306 1263C1298 1262 1296 1254 1289 1248C1281 1242 1269 1232 1259 1225C1249 1217 1238 1208 1230 1201C1221 1194 1212 1190 1206 1183C1200 1176 1190 1164 1194 1160Z" fill="rgb(82,82,82)"/>
</g>
<g filter="url(#b28)">
<path d="M1732 1290C1745 1282 1780 1297 1807 1296C1835 1295 1872 1289 1896 1284C1920 1279 1932 1276 1951 1267C1971 1257 1993 1238 2014 1225C2034 1213 2063 1166 2073 1193C2082 1219 2093 1358 2073 1385C2052 1412 1981 1360 1951 1355C1922 1350 1920 1355 1896 1355C1872 1355 1829 1355 1807 1355C1786 1355 1779 1357 1766 1355C1754 1353 1738 1354 1732 1343C1726 1332 1719 1298 1732 1290Z" fill="rgb(107,107,107)"/>
<path d="M1732 1326C1744 1322 1800 1332 1837 1331C1873 1330 1912 1326 1951 1320C1991 1314 2052 1280 2073 1296C2093 1312 2087 1389 2073 1414C2058 1439 2009 1441 1984 1444C1960 1446 1945 1436 1925 1429C1906 1421 1886 1409 1866 1399C1847 1390 1824 1380 1807 1373C1791 1365 1779 1363 1766 1355C1754 1347 1720 1329 1732 1326Z" fill="rgb(129,129,129)"/>
</g>
<g filter="url(#b12)">
<ellipse cx="1790" cy="1199" rx="32" ry="24" fill="rgb(125,125,125)" transform="rotate(0 1790 1199)"/>
</g>
<g filter="url(#b4)">
<ellipse cx="1791" cy="1197" rx="12" ry="8" fill="rgb(154,154,154)" transform="rotate(0 1791 1197)"/>
</g>
<g filter="url(#b12)">
<ellipse cx="1919" cy="1202" rx="32" ry="7" fill="rgb(96,96,96)" transform="rotate(0 1919 1202)"/>
<ellipse cx="1902" cy="1141" rx="24" ry="9" fill="rgb(96,96,96)" transform="rotate(0 1902 1141)"/>
<path d="M1737 1358C1741 1354 1757 1357 1766 1361C1775 1365 1781 1379 1790 1385C1799 1390 1808 1390 1819 1396C1830 1402 1842 1413 1855 1420C1867 1427 1883 1435 1896 1441C1909 1446 1921 1450 1931 1455C1941 1461 1946 1465 1955 1473C1964 1481 1974 1495 1984 1503C1994 1510 2004 1515 2014 1520C2024 1525 2033 1525 2043 1532C2053 1539 2092 1557 2073 1562C2053 1566 1955 1566 1925 1562C1896 1557 1906 1542 1896 1532C1886 1522 1876 1512 1866 1503C1857 1493 1847 1482 1837 1473C1827 1464 1817 1457 1807 1449C1798 1442 1786 1434 1778 1426C1770 1418 1763 1409 1757 1402C1751 1395 1746 1392 1743 1385C1739 1377 1733 1362 1737 1358Z" fill="rgb(20,20,20)"/>
</g>
<g filter="url(#b4)">
<path d="M1737 1361C1729 1360 1702 1359 1690 1355C1677 1351 1668 1342 1660 1337C1652 1332 1649 1326 1639 1326C1630 1325 1617 1333 1601 1334C1585 1335 1558 1335 1542 1331C1527 1328 1513 1317 1507 1314" fill="none" stroke="rgb(53,53,53)" stroke-width="8" stroke-linecap="round" stroke-linejoin="round"/>
</g>
<g filter="url(#b18)">
<path d="M1732 1399C1738 1389 1756 1406 1766 1414C1777 1422 1786 1439 1796 1449C1805 1460 1818 1470 1825 1479C1832 1488 1840 1498 1837 1503C1834 1507 1817 1508 1807 1508C1798 1508 1790 1502 1778 1503C1766 1504 1744 1519 1737 1514C1729 1509 1733 1492 1732 1473C1731 1454 1726 1409 1732 1399Z" fill="rgb(125,125,125)"/>
</g>
<g filter="url(#b4)">
<path d="M1610 1399C1616 1401 1634 1405 1645 1408C1657 1411 1668 1413 1678 1416C1687 1418 1697 1420 1701 1421" fill="none" stroke="rgb(176,176,176)" stroke-width="5" stroke-linecap="round" stroke-linejoin="round"/>
</g>
<g filter="url(#b28)">
<path d="M2055 966C2071 934 2119 965 2150 966C2180 967 2212 969 2238 972C2264 975 2281 980 2306 984C2330 988 2363 989 2385 996C2407 1003 2428 1016 2438 1025C2448 1035 2448 1045 2444 1055C2440 1065 2429 1077 2415 1084C2400 1092 2375 1094 2356 1099C2336 1104 2317 1108 2297 1114C2277 1120 2258 1131 2238 1138C2218 1144 2209 1151 2179 1155C2149 1159 2076 1193 2055 1161C2035 1130 2040 999 2055 966Z" fill="rgb(77,77,77)"/>
</g>
<g filter="url(#b12)">
<ellipse cx="2094" cy="1053" rx="47" ry="21" fill="rgb(122,122,122)" transform="rotate(-35 2094 1053)"/>
</g>
<g filter="url(#b4)">
<path d="M2073 1067C2080 1061 2107 1037 2114 1031" fill="none" stroke="rgb(140,140,140)" stroke-width="13" stroke-linecap="round" stroke-linejoin="round"/>
</g>
<g filter="url(#b14)">
<path d="M416 1630C419 1632 427 1642 434 1642C440 1642 447 1634 454 1630C461 1626 468 1622 475 1618C481 1615 486 1608 493 1607C499 1605 507 1608 513 1610C520 1612 527 1618 534 1618C541 1619 548 1611 555 1613C562 1615 569 1624 575 1630C582 1636 589 1643 593 1647C597 1652 594 1659 599 1659C604 1659 616 1654 622 1647C628 1641 632 1629 634 1618C637 1608 637 1597 637 1586C637 1575 635 1561 635 1551C636 1541 638 1536 640 1527C641 1518 644 1507 646 1498C648 1488 649 1477 652 1468C654 1459 658 1449 661 1442C664 1434 667 1429 670 1424C672 1419 674 1414 675 1412" fill="none" stroke="rgb(34,34,34)" stroke-width="31" stroke-linecap="round" stroke-linejoin="round"/>
</g>
<g filter="url(#b30)">
<path d="M864 1341C868 1343 871 1350 888 1353C904 1357 944 1358 964 1362C985 1366 994 1372 1009 1377C1023 1382 1040 1387 1053 1391C1066 1396 1078 1399 1088 1403C1098 1408 1103 1413 1112 1418C1121 1423 1131 1429 1141 1436C1151 1442 1161 1450 1171 1456C1180 1463 1191 1470 1200 1477C1210 1483 1220 1489 1230 1495C1240 1500 1249 1504 1259 1509C1269 1514 1280 1520 1289 1524C1297 1528 1304 1530 1312 1533C1320 1537 1329 1539 1336 1545C1343 1550 1350 1559 1357 1566C1363 1572 1370 1579 1377 1586C1385 1593 1393 1603 1401 1610C1409 1616 1416 1620 1424 1624C1432 1628 1440 1629 1448 1633C1456 1637 1464 1640 1472 1647C1479 1655 1488 1673 1491 1679" fill="none" stroke="rgb(49,49,49)" stroke-width="184" stroke-linecap="round" stroke-linejoin="round" opacity="0.75"/>
</g>
<g filter="url(#b14)">
<path d="M793 1388C795 1382 799 1363 805 1353C811 1343 819 1331 829 1329C839 1327 854 1337 864 1341C874 1345 871 1350 888 1353C904 1357 944 1358 964 1362C985 1366 994 1372 1009 1377C1023 1382 1040 1387 1053 1391C1066 1396 1078 1399 1088 1403C1098 1408 1103 1413 1112 1418C1121 1423 1131 1429 1141 1436C1151 1442 1161 1450 1171 1456C1180 1463 1191 1470 1200 1477C1210 1483 1220 1489 1230 1495C1240 1500 1249 1504 1259 1509C1269 1514 1280 1520 1289 1524C1297 1528 1304 1530 1312 1533C1320 1537 1329 1539 1336 1545C1343 1550 1350 1559 1357 1566C1363 1572 1370 1579 1377 1586C1385 1593 1393 1603 1401 1610C1409 1616 1416 1620 1424 1624C1432 1628 1440 1629 1448 1633C1456 1637 1464 1640 1472 1647C1479 1655 1488 1673 1491 1679" fill="none" stroke="rgb(27,27,27)" stroke-width="88" stroke-linecap="round" stroke-linejoin="round"/>
</g>
<g filter="url(#b30)">
<path d="M1472 1647C1475 1653 1484 1669 1491 1679C1498 1688 1504 1698 1513 1703C1521 1708 1532 1707 1542 1710C1552 1713 1562 1717 1572 1721C1581 1724 1590 1727 1601 1730C1613 1732 1634 1736 1643 1735C1651 1735 1648 1730 1651 1726C1655 1723 1659 1718 1666 1715C1672 1711 1684 1707 1690 1706C1695 1705 1696 1710 1701 1709C1706 1707 1714 1699 1719 1697C1724 1695 1729 1696 1734 1697C1739 1699 1743 1704 1749 1706C1755 1708 1764 1711 1769 1710C1774 1709 1774 1704 1778 1700C1783 1696 1789 1689 1796 1688C1802 1687 1809 1694 1816 1694C1823 1695 1829 1692 1837 1691C1845 1690 1856 1689 1866 1688C1876 1687 1886 1686 1896 1685C1906 1684 1917 1683 1926 1682C1934 1682 1941 1681 1949 1682C1957 1684 1965 1692 1973 1691C1980 1691 1987 1683 1996 1679C2005 1676 2015 1671 2026 1668C2036 1664 2048 1662 2061 1659C2074 1655 2095 1649 2102 1647" fill="none" stroke="rgb(53,53,53)" stroke-width="114" stroke-linecap="round" stroke-linejoin="round" opacity="0.7"/>
</g>
<g filter="url(#b14)">
<path d="M1472 1647C1475 1653 1484 1669 1491 1679C1498 1688 1504 1698 1513 1703C1521 1708 1532 1707 1542 1710C1552 1713 1562 1717 1572 1721C1581 1724 1590 1727 1601 1730C1613 1732 1634 1736 1643 1735C1651 1735 1648 1730 1651 1726C1655 1723 1659 1718 1666 1715C1672 1711 1684 1707 1690 1706C1695 1705 1696 1710 1701 1709C1706 1707 1714 1699 1719 1697C1724 1695 1729 1696 1734 1697C1739 1699 1743 1704 1749 1706C1755 1708 1764 1711 1769 1710C1774 1709 1774 1704 1778 1700C1783 1696 1789 1689 1796 1688C1802 1687 1809 1694 1816 1694C1823 1695 1829 1692 1837 1691C1845 1690 1856 1689 1866 1688C1876 1687 1886 1686 1896 1685C1906 1684 1917 1683 1926 1682C1934 1682 1941 1681 1949 1682C1957 1684 1965 1692 1973 1691C1980 1691 1987 1683 1996 1679C2005 1676 2015 1671 2026 1668C2036 1664 2048 1662 2061 1659C2074 1655 2095 1649 2102 1647" fill="none" stroke="rgb(27,27,27)" stroke-width="53" stroke-linecap="round" stroke-linejoin="round"/>
<path d="M2102 1647C2108 1643 2122 1628 2135 1618C2148 1609 2164 1601 2179 1592C2194 1582 2211 1573 2226 1562C2241 1552 2255 1539 2267 1530C2279 1521 2287 1514 2297 1507C2307 1499 2317 1493 2327 1486C2336 1479 2345 1472 2356 1465C2367 1458 2380 1448 2390 1442C2400 1435 2406 1430 2415 1424C2424 1418 2435 1411 2445 1406C2454 1401 2464 1396 2474 1391C2484 1387 2491 1382 2503 1377C2516 1371 2535 1363 2548 1359C2560 1355 2567 1354 2577 1354C2587 1354 2604 1357 2610 1358" fill="none" stroke="rgb(23,23,23)" stroke-width="44" stroke-linecap="round" stroke-linejoin="round"/>
</g>
</g>
<g filter="url(#noise)">
</g>
<g filter="url(#b14)">
<path d="M669 1297C679 1293 696 1289 711 1288C725 1287 743 1289 755 1291C767 1293 777 1294 784 1300C791 1305 794 1316 796 1323C799 1331 799 1338 799 1347C799 1356 799 1368 796 1377C793 1385 789 1394 781 1400C774 1406 761 1411 749 1412C737 1412 723 1403 711 1403C698 1403 684 1413 675 1412C667 1410 665 1402 661 1394C657 1386 654 1375 652 1365C649 1355 646 1344 646 1335C646 1326 648 1318 652 1312C656 1305 660 1301 669 1297Z" fill="rgb(16,16,16)"/>
</g>
<g filter="url(#b8)">
<path d="M711 1353C724 1349 741 1348 755 1347C769 1346 789 1342 796 1347C803 1352 799 1368 796 1377C794 1385 789 1394 781 1400C774 1406 761 1411 749 1412C737 1412 722 1406 711 1403C699 1400 687 1400 681 1394C675 1389 670 1378 675 1371C680 1364 697 1357 711 1353Z" fill="rgb(7,7,7)"/>
</g>
<g filter="url(#b14)">
<path d="M2562 1247C2571 1235 2611 1212 2621 1232C2631 1252 2628 1346 2621 1365C2614 1384 2586 1358 2577 1347C2568 1336 2570 1317 2568 1300C2565 1283 2553 1258 2562 1247Z" fill="rgb(20,20,20)"/>
</g>
<g filter="url(#b4)">
<polygon points="416,1630 434,1642 454,1630 475,1618 493,1607 513,1610 534,1618 555,1613 575,1630 593,1647 599,1659 622,1647 634,1618 637,1586 635,1551 640,1527 646,1498 652,1468 661,1442 670,1424 675,1412 746,1406 793,1388 805,1353 829,1329 864,1341 888,1353 964,1362 1009,1377 1053,1391 1088,1403 1112,1418 1141,1436 1171,1456 1200,1477 1230,1495 1259,1509 1289,1524 1312,1533 1336,1545 1357,1566 1377,1586 1401,1610 1424,1624 1448,1633 1472,1647 1491,1679 1513,1703 1542,1710 1572,1721 1601,1730 1643,1735 1651,1726 1666,1715 1690,1706 1701,1709 1719,1697 1734,1697 1749,1706 1769,1710 1778,1700 1796,1688 1816,1694 1837,1691 1866,1688 1896,1685 1926,1682 1949,1682 1973,1691 1996,1679 2026,1668 2061,1659 2102,1647 2135,1618 2179,1592 2226,1562 2267,1530 2297,1507 2327,1486 2356,1465 2390,1442 2415,1424 2445,1406 2474,1391 2503,1377 2548,1359 2577,1354 2610,1358 2873,1358 2873,2371 153,2371 153,1630" fill="rgb(2,2,2)"/>
</g>
<g filter="url(#b8)">
<path d="M1707 1984C1735 1983 1811 2010 1867 2014C1923 2018 1994 2014 2043 2008C2093 2002 2122 1991 2161 1978C2201 1966 2236 1950 2279 1931C2323 1912 2395 1873 2421 1863C2446 1854 2446 1861 2433 1875C2419 1889 2369 1928 2338 1949C2308 1970 2274 1986 2250 2002C2225 2018 2204 2029 2191 2043C2178 2058 2176 2071 2171 2090C2166 2110 2276 2149 2161 2161C2047 2173 1596 2175 1483 2161C1370 2148 1469 2096 1483 2079C1498 2061 1542 2061 1572 2055C1601 2049 1639 2049 1660 2043C1682 2037 1694 2030 1701 2020C1709 2010 1680 1985 1707 1984Z" fill="rgb(10,10,10)"/>
</g>
<g filter="url(#b4)">
<path d="M1707 1990C1716 1993 1738 2001 1760 2005C1783 2009 1812 2013 1843 2017C1874 2020 1916 2026 1949 2024C1983 2023 2018 2013 2043 2008C2069 2003 2081 1999 2102 1993C2124 1988 2141 1984 2171 1975C2200 1967 2251 1950 2279 1940C2307 1930 2315 1925 2338 1913C2362 1902 2407 1879 2421 1872" fill="none" stroke="rgb(29,29,29)" stroke-width="7" stroke-linecap="round" stroke-linejoin="round"/>
<path d="M1890 2021C1900 2021 1924 2027 1949 2024C1975 2022 2018 2013 2043 2008C2069 2003 2081 1999 2102 1993C2124 1988 2159 1978 2171 1975" fill="none" stroke="rgb(49,49,49)" stroke-width="4" stroke-linecap="round" stroke-linejoin="round"/>
</g>
<g filter="url(#b14)">
<path d="M1501 2085C1513 2069 1545 2071 1572 2070C1598 2068 1639 2069 1660 2076C1682 2082 1693 2094 1701 2108C1710 2122 1747 2152 1713 2161C1680 2170 1536 2174 1501 2161C1466 2148 1489 2100 1501 2085Z" fill="rgb(26,26,26)"/>
</g>
<g filter="url(#b8)">
<path d="M1536 2114C1549 2103 1581 2096 1601 2096C1622 2096 1647 2103 1660 2114C1673 2125 1700 2153 1678 2161C1655 2169 1548 2169 1525 2161C1501 2153 1524 2125 1536 2114Z" fill="rgb(45,45,45)"/>
</g>
</g></g>
<g stroke="#000" stroke-width="1.1" stroke-dasharray="1.1 5.6" fill="none">
<line x1="635.4" y1="180.0" x2="635.4" y2="2136.5"/>
<line x1="854.7" y1="180.0" x2="854.7" y2="2136.5"/>
<line x1="1074.0" y1="180.0" x2="1074.0" y2="2136.5"/>
<line x1="1293.4" y1="180.0" x2="1293.4" y2="2136.5"/>
<line x1="1512.8" y1="180.0" x2="1512.8" y2="2136.5"/>
<line x1="1732.1" y1="180.0" x2="1732.1" y2="2136.5"/>
<line x1="1951.4" y1="180.0" x2="1951.4" y2="2136.5"/>
<line x1="2170.8" y1="180.0" x2="2170.8" y2="2136.5"/>
<line x1="2390.2" y1="180.0" x2="2390.2" y2="2136.5"/>
<line x1="416.0" y1="1940.9" x2="2609.5" y2="1940.9"/>
<line x1="416.0" y1="1745.2" x2="2609.5" y2="1745.2"/>
<line x1="416.0" y1="1549.5" x2="2609.5" y2="1549.5"/>
<line x1="416.0" y1="1353.9" x2="2609.5" y2="1353.9"/>
<line x1="416.0" y1="1158.2" x2="2609.5" y2="1158.2"/>
<line x1="416.0" y1="962.6" x2="2609.5" y2="962.6"/>
<line x1="416.0" y1="766.9" x2="2609.5" y2="766.9"/>
<line x1="416.0" y1="571.3" x2="2609.5" y2="571.3"/>
<line x1="416.0" y1="375.6" x2="2609.5" y2="375.6"/>
</g>
<g stroke="#000" stroke-width="2.3" fill="none">
<rect x="416.0" y="180.0" width="2193.5" height="1956.5"/>
<line x1="635.4" y1="2136.5" x2="635.4" y2="2114.5"/><line x1="635.4" y1="180.0" x2="635.4" y2="202.0"/>
<line x1="416.0" y1="1940.9" x2="438.0" y2="1940.9"/><line x1="2609.5" y1="1940.9" x2="2587.5" y2="1940.9"/>
<line x1="854.7" y1="2136.5" x2="854.7" y2="2114.5"/><line x1="854.7" y1="180.0" x2="854.7" y2="202.0"/>
<line x1="416.0" y1="1745.2" x2="438.0" y2="1745.2"/><line x1="2609.5" y1="1745.2" x2="2587.5" y2="1745.2"/>
<line x1="1074.0" y1="2136.5" x2="1074.0" y2="2114.5"/><line x1="1074.0" y1="180.0" x2="1074.0" y2="202.0"/>
<line x1="416.0" y1="1549.5" x2="438.0" y2="1549.5"/><line x1="2609.5" y1="1549.5" x2="2587.5" y2="1549.5"/>
<line x1="1293.4" y1="2136.5" x2="1293.4" y2="2114.5"/><line x1="1293.4" y1="180.0" x2="1293.4" y2="202.0"/>
<line x1="416.0" y1="1353.9" x2="438.0" y2="1353.9"/><line x1="2609.5" y1="1353.9" x2="2587.5" y2="1353.9"/>
<line x1="1512.8" y1="2136.5" x2="1512.8" y2="2114.5"/><line x1="1512.8" y1="180.0" x2="1512.8" y2="202.0"/>
<line x1="416.0" y1="1158.2" x2="438.0" y2="1158.2"/><line x1="2609.5" y1="1158.2" x2="2587.5" y2="1158.2"/>
<line x1="1732.1" y1="2136.5" x2="1732.1" y2="2114.5"/><line x1="1732.1" y1="180.0" x2="1732.1" y2="202.0"/>
<line x1="416.0" y1="962.6" x2="438.0" y2="962.6"/><line x1="2609.5" y1="962.6" x2="2587.5" y2="962.6"/>
<line x1="1951.4" y1="2136.5" x2="1951.4" y2="2114.5"/><line x1="1951.4" y1="180.0" x2="1951.4" y2="202.0"/>
<line x1="416.0" y1="766.9" x2="438.0" y2="766.9"/><line x1="2609.5" y1="766.9" x2="2587.5" y2="766.9"/>
<line x1="2170.8" y1="2136.5" x2="2170.8" y2="2114.5"/><line x1="2170.8" y1="180.0" x2="2170.8" y2="202.0"/>
<line x1="416.0" y1="571.3" x2="438.0" y2="571.3"/><line x1="2609.5" y1="571.3" x2="2587.5" y2="571.3"/>
<line x1="2390.2" y1="2136.5" x2="2390.2" y2="2114.5"/><line x1="2390.2" y1="180.0" x2="2390.2" y2="202.0"/>
<line x1="416.0" y1="375.6" x2="438.0" y2="375.6"/><line x1="2609.5" y1="375.6" x2="2587.5" y2="375.6"/>
</g>
<g font-size="54.8">
<text x="416.0" y="2205" text-anchor="middle">30</text>
<text x="635.4" y="2205" text-anchor="middle">30.5</text>
<text x="854.7" y="2205" text-anchor="middle">31</text>
<text x="1074.0" y="2205" text-anchor="middle">31.5</text>
<text x="1293.4" y="2205" text-anchor="middle">32</text>
<text x="1512.8" y="2205" text-anchor="middle">32.5</text>
<text x="1732.1" y="2205" text-anchor="middle">33</text>
<text x="1951.4" y="2205" text-anchor="middle">33.5</text>
<text x="2170.8" y="2205" text-anchor="middle">34</text>
<text x="2390.2" y="2205" text-anchor="middle">34.5</text>
<text x="2609.5" y="2205" text-anchor="middle">35</text>
<text x="398.5" y="2155.5" text-anchor="end">35</text>
<text x="398.5" y="1959.9" text-anchor="end">35.5</text>
<text x="398.5" y="1764.2" text-anchor="end">36</text>
<text x="398.5" y="1568.5" text-anchor="end">36.5</text>
<text x="398.5" y="1372.9" text-anchor="end">37</text>
<text x="398.5" y="1177.2" text-anchor="end">37.5</text>
<text x="398.5" y="981.6" text-anchor="end">38</text>
<text x="398.5" y="785.9" text-anchor="end">38.5</text>
<text x="398.5" y="590.3" text-anchor="end">39</text>
<text x="398.5" y="394.6" text-anchor="end">39.5</text>
<text x="398.5" y="199.0" text-anchor="end">40</text>
<text x="2822" y="2144.7">0</text>
<text x="2822" y="1865.7">500</text>
<text x="2822" y="1586.7">1000</text>
<text x="2822" y="1307.7">1500</text>
<text x="2822" y="1028.7">2000</text>
<text x="2822" y="749.7">2500</text>
<text x="2822" y="470.7">3000</text>
<g font-size="55.6" letter-spacing="0.22">
<text x="1512.8" y="134.9" text-anchor="middle">N35E030 SRTM elevations [m]</text>
<text x="1512.8" y="2273.3" text-anchor="middle">Longitude [deg]</text>
<text transform="translate(253 1158.2) rotate(-90)" text-anchor="middle">Latitude [deg]</text>
</g></g>
<g shape-rendering="crispEdges">
<rect x="2694.0" y="2107.90" width="111.0" height="31.20" fill="#00008F"/>
<rect x="2694.0" y="2077.30" width="111.0" height="31.20" fill="#00009F"/>
<rect x="2694.0" y="2046.70" width="111.0" height="31.20" fill="#0000AF"/>
<rect x="2694.0" y="2016.09" width="111.0" height="31.20" fill="#0000BF"/>
<rect x="2694.0" y="1985.49" width="111.0" height="31.20" fill="#0000CF"/>
<rect x="2694.0" y="1954.89" width="111.0" height="31.20" fill="#0000DF"/>
<rect x="2694.0" y="1924.29" width="111.0" height="31.20" fill="#0000EF"/>
<rect x="2694.0" y="1893.69" width="111.0" height="31.20" fill="#0000FF"/>
<rect x="2694.0" y="1863.09" width="111.0" height="31.20" fill="#0010FF"/>
<rect x="2694.0" y="1832.48" width="111.0" height="31.20" fill="#0020FF"/>
<rect x="2694.0" y="1801.88" width="111.0" height="31.20" fill="#0030FF"/>
<rect x="2694.0" y="1771.28" width="111.0" height="31.20" fill="#0040FF"/>
<rect x="2694.0" y="1740.68" width="111.0" height="31.20" fill="#0050FF"/>
<rect x="2694.0" y="1710.08" width="111.0" height="31.20" fill="#0060FF"/>
<rect x="2694.0" y="1679.48" width="111.0" height="31.20" fill="#0070FF"/>
<rect x="2694.0" y="1648.88" width="111.0" height="31.20" fill="#0080FF"/>
<rect x="2694.0" y="1618.27" width="111.0" height="31.20" fill="#008FFF"/>
<rect x="2694.0" y="1587.67" width="111.0" height="31.20" fill="#009FFF"/>
<rect x="2694.0" y="1557.07" width="111.0" height="31.20" fill="#00AFFF"/>
<rect x="2694.0" y="1526.47" width="111.0" height="31.20" fill="#00BFFF"/>
<rect x="2694.0" y="1495.87" width="111.0" height="31.20" fill="#00CFFF"/>
<rect x="2694.0" y="1465.27" width="111.0" height="31.20" fill="#00DFFF"/>
<rect x="2694.0" y="1434.66" width="111.0" height="31.20" fill="#00EFFF"/>
<rect x="2694.0" y="1404.06" width="111.0" height="31.20" fill="#00FFFF"/>
<rect x="2694.0" y="1373.46" width="111.0" height="31.20" fill="#10FFEF"/>
<rect x="2694.0" y="1342.86" width="111.0" height="31.20" fill="#20FFDF"/>
<rect x="2694.0" y="1312.26" width="111.0" height="31.20" fill="#30FFCF"/>
<rect x="2694.0" y="1281.66" width="111.0" height="31.20" fill="#40FFBF"/>
<rect x="2694.0" y="1251.05" width="111.0" height="31.20" fill="#50FFAF"/>
<rect x="2694.0" y="1220.45" width="111.0" height="31.20" fill="#60FF9F"/>
<rect x="2694.0" y="1189.85" width="111.0" height="31.20" fill="#70FF8F"/>
<rect x="2694.0" y="1159.25" width="111.0" height="31.20" fill="#80FF80"/>
<rect x="2694.0" y="1128.65" width="111.0" height="31.20" fill="#8FFF70"/>
<rect x="2694.0" y="1098.05" width="111.0" height="31.20" fill="#9FFF60"/>
<rect x="2694.0" y="1067.45" width="111.0" height="31.20" fill="#AFFF50"/>
<rect x="2694.0" y="1036.84" width="111.0" height="31.20" fill="#BFFF40"/>
<rect x="2694.0" y="1006.24" width="111.0" height="31.20" fill="#CFFF30"/>
<rect x="2694.0" y="975.64" width="111.0" height="31.20" fill="#DFFF20"/>
<rect x="2694.0" y="945.04" width="111.0" height="31.20" fill="#EFFF10"/>
<rect x="2694.0" y="914.44" width="111.0" height="31.20" fill="#FFFF00"/>
<rect x="2694.0" y="883.84" width="111.0" height="31.20" fill="#FFEF00"/>
<rect x="2694.0" y="853.23" width="111.0" height="31.20" fill="#FFDF00"/>
<rect x="2694.0" y="822.63" width="111.0" height="31.20" fill="#FFCF00"/>
<rect x="2694.0" y="792.03" width="111.0" height="31.20" fill="#FFBF00"/>
<rect x="2694.0" y="761.43" width="111.0" height="31.20" fill="#FFAF00"/>
<rect x="2694.0" y="730.83" width="111.0" height="31.20" fill="#FF9F00"/>
<rect x="2694.0" y="700.23" width="111.0" height="31.20" fill="#FF8F00"/>
<rect x="2694.0" y="669.62" width="111.0" height="31.20" fill="#FF8000"/>
<rect x="2694.0" y="639.02" width="111.0" height="31.20" fill="#FF7000"/>
<rect x="2694.0" y="608.42" width="111.0" height="31.20" fill="#FF6000"/>
<rect x="2694.0" y="577.82" width="111.0" height="31.20" fill="#FF5000"/>
<rect x="2694.0" y="547.22" width="111.0" height="31.20" fill="#FF4000"/>
<rect x="2694.0" y="516.62" width="111.0" height="31.20" fill="#FF3000"/>
<rect x="2694.0" y="486.02" width="111.0" height="31.20" fill="#FF2000"/>
<rect x="2694.0" y="455.41" width="111.0" height="31.20" fill="#FF1000"/>
<rect x="2694.0" y="424.81" width="111.0" height="31.20" fill="#FF0000"/>
<rect x="2694.0" y="394.21" width="111.0" height="31.20" fill="#EF0000"/>
<rect x="2694.0" y="363.61" width="111.0" height="31.20" fill="#DF0000"/>
<rect x="2694.0" y="333.01" width="111.0" height="31.20" fill="#CF0000"/>
<rect x="2694.0" y="302.41" width="111.0" height="31.20" fill="#BF0000"/>
<rect x="2694.0" y="271.80" width="111.0" height="31.20" fill="#AF0000"/>
<rect x="2694.0" y="241.20" width="111.0" height="31.20" fill="#9F0000"/>
<rect x="2694.0" y="210.60" width="111.0" height="31.20" fill="#8F0000"/>
<rect x="2694.0" y="180.00" width="111.0" height="31.20" fill="#800000"/>
</g>
<g stroke="#000" stroke-width="2.3" fill="none">
<rect x="2694.0" y="180.0" width="111.0" height="1958.5"/>
<line x1="2694.0" y1="2125.7" x2="2714.0" y2="2125.7"/><line x1="2805.0" y1="2125.7" x2="2785.0" y2="2125.7"/>
<line x1="2694.0" y1="1846.7" x2="2714.0" y2="1846.7"/><line x1="2805.0" y1="1846.7" x2="2785.0" y2="1846.7"/>
<line x1="2694.0" y1="1567.7" x2="2714.0" y2="1567.7"/><line x1="2805.0" y1="1567.7" x2="2785.0" y2="1567.7"/>
<line x1="2694.0" y1="1288.7" x2="2714.0" y2="1288.7"/><line x1="2805.0" y1="1288.7" x2="2785.0" y2="1288.7"/>
<line x1="2694.0" y1="1009.7" x2="2714.0" y2="1009.7"/><line x1="2805.0" y1="1009.7" x2="2785.0" y2="1009.7"/>
<line x1="2694.0" y1="730.7" x2="2714.0" y2="730.7"/><line x1="2805.0" y1="730.7" x2="2785.0" y2="730.7"/>
<line x1="2694.0" y1="451.7" x2="2714.0" y2="451.7"/><line x1="2805.0" y1="451.7" x2="2785.0" y2="451.7"/>
</g>
</svg></body></html>
